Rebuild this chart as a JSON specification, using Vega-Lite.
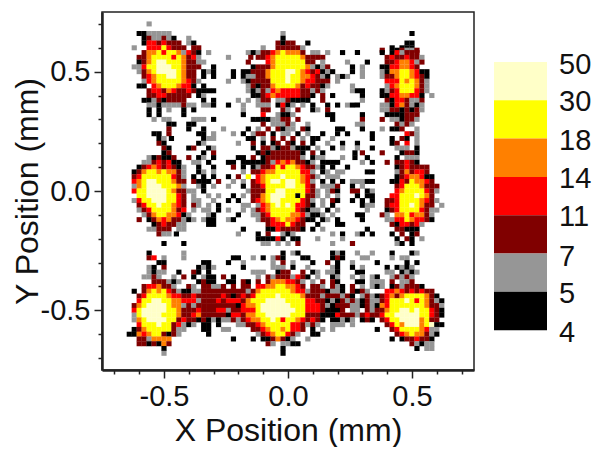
{"$schema":"https://vega.github.io/schema/vega-lite/v6.json","padding":{"left":10,"top":9,"right":0,"bottom":0},"background":"white","config":{"view":{"stroke":null},"font":"Liberation Sans"},"spacing":19,"hconcat":[{"width":372,"height":358,"view":{"stroke":"#222222","strokeWidth":1.5},"data":{"values":[
{"x":-0.56,"y":0.7,"v":6},{"x":-0.6,"y":0.66,"v":4},{"x":-0.58,"y":0.66,"v":4},{"x":-0.56,"y":0.66,"v":6},{"x":-0.54,"y":0.66,"v":6},{"x":-0.52,"y":0.66,"v":6},{"x":-0.5,"y":0.66,"v":6},{"x":-0.48,"y":0.66,"v":6},
{"x":-0.58,"y":0.64,"v":4},{"x":-0.56,"y":0.64,"v":9},{"x":-0.54,"y":0.64,"v":6},{"x":-0.52,"y":0.64,"v":6},{"x":-0.5,"y":0.64,"v":9},{"x":-0.48,"y":0.64,"v":6},{"x":-0.46,"y":0.64,"v":4},{"x":-0.4,"y":0.64,"v":6},
{"x":-0.58,"y":0.62,"v":4},{"x":-0.56,"y":0.62,"v":12},{"x":-0.54,"y":0.62,"v":12},{"x":-0.52,"y":0.62,"v":9},{"x":-0.5,"y":0.62,"v":12},{"x":-0.48,"y":0.62,"v":9},{"x":-0.46,"y":0.62,"v":9},{"x":-0.44,"y":0.62,"v":9},{"x":-0.4,"y":0.62,"v":6},{"x":-0.38,"y":0.62,"v":4},
{"x":-0.62,"y":0.6,"v":6},{"x":-0.56,"y":0.6,"v":12},{"x":-0.54,"y":0.6,"v":12},{"x":-0.52,"y":0.6,"v":12},{"x":-0.5,"y":0.6,"v":24},{"x":-0.48,"y":0.6,"v":12},{"x":-0.46,"y":0.6,"v":9},{"x":-0.44,"y":0.6,"v":9},{"x":-0.42,"y":0.6,"v":9},{"x":-0.38,"y":0.6,"v":9},{"x":-0.36,"y":0.6,"v":9},
{"x":-0.58,"y":0.58,"v":9},{"x":-0.56,"y":0.58,"v":16},{"x":-0.54,"y":0.58,"v":16},{"x":-0.52,"y":0.58,"v":24},{"x":-0.5,"y":0.58,"v":12},{"x":-0.48,"y":0.58,"v":24},{"x":-0.46,"y":0.58,"v":24},{"x":-0.44,"y":0.58,"v":16},{"x":-0.42,"y":0.58,"v":6},{"x":-0.4,"y":0.58,"v":12},{"x":-0.38,"y":0.58,"v":9},{"x":-0.36,"y":0.58,"v":4},{"x":-0.32,"y":0.58,"v":6},
{"x":-0.6,"y":0.56,"v":9},{"x":-0.58,"y":0.56,"v":9},{"x":-0.56,"y":0.56,"v":16},{"x":-0.54,"y":0.56,"v":24},{"x":-0.52,"y":0.56,"v":24},{"x":-0.5,"y":0.56,"v":24},{"x":-0.48,"y":0.56,"v":24},{"x":-0.46,"y":0.56,"v":12},{"x":-0.44,"y":0.56,"v":24},{"x":-0.42,"y":0.56,"v":16},{"x":-0.4,"y":0.56,"v":9},{"x":-0.38,"y":0.56,"v":12},{"x":-0.36,"y":0.56,"v":6},
{"x":-0.6,"y":0.54,"v":4},{"x":-0.58,"y":0.54,"v":9},{"x":-0.56,"y":0.54,"v":16},{"x":-0.54,"y":0.54,"v":24},{"x":-0.52,"y":0.54,"v":40},{"x":-0.5,"y":0.54,"v":40},{"x":-0.48,"y":0.54,"v":24},{"x":-0.46,"y":0.54,"v":24},{"x":-0.44,"y":0.54,"v":24},{"x":-0.42,"y":0.54,"v":16},{"x":-0.4,"y":0.54,"v":9},{"x":-0.38,"y":0.54,"v":9},{"x":-0.36,"y":0.54,"v":6},{"x":-0.34,"y":0.54,"v":6},
{"x":-0.62,"y":0.52,"v":6},{"x":-0.6,"y":0.52,"v":6},{"x":-0.58,"y":0.52,"v":12},{"x":-0.56,"y":0.52,"v":24},{"x":-0.54,"y":0.52,"v":24},{"x":-0.52,"y":0.52,"v":40},{"x":-0.5,"y":0.52,"v":40},{"x":-0.48,"y":0.52,"v":40},{"x":-0.46,"y":0.52,"v":24},{"x":-0.44,"y":0.52,"v":24},{"x":-0.42,"y":0.52,"v":16},{"x":-0.4,"y":0.52,"v":9},{"x":-0.38,"y":0.52,"v":9},{"x":-0.36,"y":0.52,"v":9},{"x":-0.3,"y":0.52,"v":4},
{"x":-0.6,"y":0.5,"v":6},{"x":-0.58,"y":0.5,"v":9},{"x":-0.56,"y":0.5,"v":16},{"x":-0.54,"y":0.5,"v":24},{"x":-0.52,"y":0.5,"v":40},{"x":-0.5,"y":0.5,"v":40},{"x":-0.48,"y":0.5,"v":40},{"x":-0.46,"y":0.5,"v":40},{"x":-0.44,"y":0.5,"v":24},{"x":-0.42,"y":0.5,"v":16},{"x":-0.4,"y":0.5,"v":9},{"x":-0.38,"y":0.5,"v":9},{"x":-0.34,"y":0.5,"v":4},{"x":-0.32,"y":0.5,"v":6},{"x":-0.3,"y":0.5,"v":4},
{"x":-0.58,"y":0.48,"v":9},{"x":-0.56,"y":0.48,"v":12},{"x":-0.54,"y":0.48,"v":16},{"x":-0.52,"y":0.48,"v":24},{"x":-0.5,"y":0.48,"v":24},{"x":-0.48,"y":0.48,"v":40},{"x":-0.46,"y":0.48,"v":40},{"x":-0.44,"y":0.48,"v":24},{"x":-0.42,"y":0.48,"v":16},{"x":-0.4,"y":0.48,"v":9},{"x":-0.38,"y":0.48,"v":9},{"x":-0.34,"y":0.48,"v":4},{"x":-0.3,"y":0.48,"v":4},
{"x":-0.58,"y":0.46,"v":6},{"x":-0.56,"y":0.46,"v":12},{"x":-0.54,"y":0.46,"v":16},{"x":-0.52,"y":0.46,"v":24},{"x":-0.5,"y":0.46,"v":24},{"x":-0.48,"y":0.46,"v":24},{"x":-0.46,"y":0.46,"v":24},{"x":-0.44,"y":0.46,"v":24},{"x":-0.42,"y":0.46,"v":16},{"x":-0.4,"y":0.46,"v":12},{"x":-0.38,"y":0.46,"v":9},{"x":-0.36,"y":0.46,"v":6},
{"x":-0.6,"y":0.44,"v":4},{"x":-0.58,"y":0.44,"v":4},{"x":-0.54,"y":0.44,"v":12},{"x":-0.52,"y":0.44,"v":16},{"x":-0.5,"y":0.44,"v":24},{"x":-0.48,"y":0.44,"v":24},{"x":-0.46,"y":0.44,"v":24},{"x":-0.44,"y":0.44,"v":16},{"x":-0.42,"y":0.44,"v":12},{"x":-0.4,"y":0.44,"v":12},{"x":-0.38,"y":0.44,"v":4},{"x":-0.34,"y":0.44,"v":4},
{"x":-0.56,"y":0.42,"v":9},{"x":-0.54,"y":0.42,"v":12},{"x":-0.52,"y":0.42,"v":12},{"x":-0.5,"y":0.42,"v":9},{"x":-0.48,"y":0.42,"v":16},{"x":-0.46,"y":0.42,"v":12},{"x":-0.44,"y":0.42,"v":9},{"x":-0.42,"y":0.42,"v":9},{"x":-0.4,"y":0.42,"v":12},{"x":-0.38,"y":0.42,"v":9},{"x":-0.36,"y":0.42,"v":4},{"x":-0.34,"y":0.42,"v":4},{"x":-0.32,"y":0.42,"v":4},{"x":-0.3,"y":0.42,"v":4},
{"x":-0.56,"y":0.4,"v":9},{"x":-0.54,"y":0.4,"v":9},{"x":-0.52,"y":0.4,"v":12},{"x":-0.5,"y":0.4,"v":12},{"x":-0.48,"y":0.4,"v":9},{"x":-0.46,"y":0.4,"v":9},{"x":-0.44,"y":0.4,"v":9},{"x":-0.42,"y":0.4,"v":9},{"x":-0.4,"y":0.4,"v":9},{"x":-0.36,"y":0.4,"v":4},{"x":-0.34,"y":0.4,"v":6},
{"x":-0.58,"y":0.38,"v":4},{"x":-0.56,"y":0.38,"v":4},{"x":-0.54,"y":0.38,"v":6},{"x":-0.52,"y":0.38,"v":9},{"x":-0.5,"y":0.38,"v":4},{"x":-0.48,"y":0.38,"v":9},{"x":-0.46,"y":0.38,"v":9},{"x":-0.44,"y":0.38,"v":9},{"x":-0.42,"y":0.38,"v":9},{"x":-0.34,"y":0.38,"v":4},{"x":-0.3,"y":0.38,"v":4},
{"x":-0.56,"y":0.36,"v":6},{"x":-0.54,"y":0.36,"v":6},{"x":-0.52,"y":0.36,"v":4},{"x":-0.5,"y":0.36,"v":6},{"x":-0.48,"y":0.36,"v":6},{"x":-0.46,"y":0.36,"v":6},{"x":-0.44,"y":0.36,"v":6},{"x":-0.42,"y":0.36,"v":9},{"x":-0.4,"y":0.36,"v":6},{"x":-0.38,"y":0.36,"v":6},{"x":-0.34,"y":0.36,"v":6},{"x":-0.32,"y":0.36,"v":6},{"x":-0.3,"y":0.36,"v":4},
{"x":-0.56,"y":0.34,"v":4},{"x":-0.52,"y":0.34,"v":4},{"x":-0.48,"y":0.34,"v":6},{"x":-0.42,"y":0.34,"v":4},{"x":-0.38,"y":0.34,"v":4},
{"x":-0.56,"y":0.32,"v":4},{"x":-0.52,"y":0.32,"v":4},{"x":-0.42,"y":0.32,"v":4},
{"x":-0.54,"y":0.3,"v":6},{"x":-0.5,"y":0.3,"v":6},{"x":-0.48,"y":0.3,"v":6},{"x":-0.38,"y":0.3,"v":6},{"x":-0.36,"y":0.3,"v":6},{"x":-0.34,"y":0.3,"v":6},{"x":-0.3,"y":0.3,"v":4},
{"x":-0.48,"y":0.28,"v":4},{"x":-0.46,"y":0.28,"v":4},{"x":-0.4,"y":0.28,"v":4},{"x":-0.38,"y":0.28,"v":4},
{"x":-0.48,"y":0.26,"v":9},{"x":-0.4,"y":0.26,"v":4},{"x":-0.34,"y":0.26,"v":4},{"x":-0.26,"y":0.26,"v":6},
{"x":-0.54,"y":0.24,"v":4},{"x":-0.52,"y":0.24,"v":4},{"x":-0.48,"y":0.24,"v":9},{"x":-0.36,"y":0.24,"v":4},{"x":-0.34,"y":0.24,"v":4},{"x":-0.3,"y":0.24,"v":6},
{"x":-0.52,"y":0.22,"v":4},{"x":-0.5,"y":0.22,"v":6},{"x":-0.47,"y":0.22,"v":4},{"x":-0.34,"y":0.22,"v":4},{"x":-0.32,"y":0.22,"v":6},{"x":-0.3,"y":0.22,"v":6},
{"x":-0.52,"y":0.2,"v":9},{"x":-0.5,"y":0.2,"v":4},{"x":-0.36,"y":0.2,"v":4},{"x":-0.34,"y":0.2,"v":6},
{"x":-0.5,"y":0.18,"v":9},{"x":-0.48,"y":0.18,"v":4},{"x":-0.4,"y":0.18,"v":4},{"x":-0.38,"y":0.18,"v":9},{"x":-0.32,"y":0.18,"v":4},{"x":-0.3,"y":0.18,"v":6},
{"x":-0.5,"y":0.16,"v":4},{"x":-0.48,"y":0.16,"v":9},{"x":-0.34,"y":0.16,"v":4},{"x":-0.3,"y":0.16,"v":9},
{"x":-0.56,"y":0.14,"v":6},{"x":-0.54,"y":0.14,"v":4},{"x":-0.52,"y":0.14,"v":9},{"x":-0.5,"y":0.14,"v":4},{"x":-0.48,"y":0.14,"v":4},{"x":-0.46,"y":0.14,"v":9},{"x":-0.4,"y":0.14,"v":9},{"x":-0.36,"y":0.14,"v":4},{"x":-0.34,"y":0.14,"v":6},{"x":-0.3,"y":0.14,"v":4},
{"x":-0.58,"y":0.12,"v":6},{"x":-0.56,"y":0.12,"v":6},{"x":-0.54,"y":0.12,"v":9},{"x":-0.52,"y":0.12,"v":12},{"x":-0.5,"y":0.12,"v":9},{"x":-0.48,"y":0.12,"v":12},{"x":-0.46,"y":0.12,"v":4},{"x":-0.44,"y":0.12,"v":4},{"x":-0.38,"y":0.12,"v":6},{"x":-0.36,"y":0.12,"v":6},{"x":-0.32,"y":0.12,"v":4},
{"x":-0.6,"y":0.1,"v":4},{"x":-0.58,"y":0.1,"v":9},{"x":-0.56,"y":0.1,"v":12},{"x":-0.54,"y":0.1,"v":16},{"x":-0.52,"y":0.1,"v":12},{"x":-0.5,"y":0.1,"v":9},{"x":-0.48,"y":0.1,"v":12},{"x":-0.46,"y":0.1,"v":9},{"x":-0.44,"y":0.1,"v":4},{"x":-0.42,"y":0.1,"v":6},{"x":-0.36,"y":0.1,"v":4},{"x":-0.3,"y":0.1,"v":4},
{"x":-0.62,"y":0.08,"v":4},{"x":-0.6,"y":0.08,"v":9},{"x":-0.58,"y":0.08,"v":16},{"x":-0.56,"y":0.08,"v":24},{"x":-0.54,"y":0.08,"v":24},{"x":-0.52,"y":0.08,"v":16},{"x":-0.5,"y":0.08,"v":24},{"x":-0.48,"y":0.08,"v":16},{"x":-0.46,"y":0.08,"v":16},{"x":-0.44,"y":0.08,"v":9},{"x":-0.42,"y":0.08,"v":6},{"x":-0.36,"y":0.08,"v":4},{"x":-0.34,"y":0.08,"v":6},{"x":-0.3,"y":0.08,"v":6},
{"x":-0.62,"y":0.06,"v":9},{"x":-0.6,"y":0.06,"v":12},{"x":-0.58,"y":0.06,"v":24},{"x":-0.56,"y":0.06,"v":24},{"x":-0.54,"y":0.06,"v":24},{"x":-0.52,"y":0.06,"v":24},{"x":-0.5,"y":0.06,"v":24},{"x":-0.48,"y":0.06,"v":24},{"x":-0.46,"y":0.06,"v":12},{"x":-0.44,"y":0.06,"v":9},{"x":-0.42,"y":0.06,"v":6},{"x":-0.38,"y":0.06,"v":4},{"x":-0.34,"y":0.06,"v":4},{"x":-0.3,"y":0.06,"v":4},
{"x":-0.62,"y":0.04,"v":12},{"x":-0.6,"y":0.04,"v":16},{"x":-0.58,"y":0.04,"v":24},{"x":-0.56,"y":0.04,"v":40},{"x":-0.54,"y":0.04,"v":40},{"x":-0.52,"y":0.04,"v":24},{"x":-0.5,"y":0.04,"v":24},{"x":-0.48,"y":0.04,"v":24},{"x":-0.46,"y":0.04,"v":16},{"x":-0.44,"y":0.04,"v":9},{"x":-0.42,"y":0.04,"v":9},{"x":-0.38,"y":0.04,"v":9},{"x":-0.36,"y":0.04,"v":4},{"x":-0.34,"y":0.04,"v":4},{"x":-0.32,"y":0.04,"v":4},{"x":-0.28,"y":0.04,"v":9},
{"x":-0.62,"y":0.02,"v":6},{"x":-0.6,"y":0.02,"v":16},{"x":-0.58,"y":0.02,"v":24},{"x":-0.56,"y":0.02,"v":40},{"x":-0.54,"y":0.02,"v":40},{"x":-0.52,"y":0.02,"v":40},{"x":-0.5,"y":0.02,"v":24},{"x":-0.48,"y":0.02,"v":24},{"x":-0.46,"y":0.02,"v":24},{"x":-0.44,"y":0.02,"v":16},{"x":-0.42,"y":0.02,"v":6},{"x":-0.36,"y":0.02,"v":6},{"x":-0.34,"y":0.02,"v":4},{"x":-0.3,"y":0.02,"v":6},
{"x":-0.62,"y":0,"v":12},{"x":-0.6,"y":0,"v":24},{"x":-0.58,"y":0,"v":24},{"x":-0.56,"y":0,"v":40},{"x":-0.54,"y":0,"v":40},{"x":-0.52,"y":0,"v":40},{"x":-0.5,"y":0,"v":40},{"x":-0.48,"y":0,"v":24},{"x":-0.46,"y":0,"v":16},{"x":-0.44,"y":0,"v":9},{"x":-0.42,"y":0,"v":9},{"x":-0.4,"y":0,"v":6},{"x":-0.38,"y":0,"v":6},{"x":-0.34,"y":0,"v":4},
{"x":-0.6,"y":-0.02,"v":24},{"x":-0.58,"y":-0.02,"v":24},{"x":-0.56,"y":-0.02,"v":40},{"x":-0.54,"y":-0.02,"v":40},{"x":-0.52,"y":-0.02,"v":40},{"x":-0.5,"y":-0.02,"v":40},{"x":-0.48,"y":-0.02,"v":24},{"x":-0.46,"y":-0.02,"v":24},{"x":-0.44,"y":-0.02,"v":12},{"x":-0.42,"y":-0.02,"v":9},{"x":-0.38,"y":-0.02,"v":6},{"x":-0.32,"y":-0.02,"v":6},{"x":-0.28,"y":-0.02,"v":6},
{"x":-0.62,"y":-0.04,"v":6},{"x":-0.6,"y":-0.04,"v":12},{"x":-0.58,"y":-0.04,"v":24},{"x":-0.56,"y":-0.04,"v":24},{"x":-0.54,"y":-0.04,"v":40},{"x":-0.52,"y":-0.04,"v":40},{"x":-0.5,"y":-0.04,"v":40},{"x":-0.48,"y":-0.04,"v":24},{"x":-0.46,"y":-0.04,"v":24},{"x":-0.44,"y":-0.04,"v":12},{"x":-0.42,"y":-0.04,"v":9},{"x":-0.38,"y":-0.04,"v":6},{"x":-0.36,"y":-0.04,"v":6},{"x":-0.3,"y":-0.04,"v":6},
{"x":-0.6,"y":-0.06,"v":9},{"x":-0.58,"y":-0.06,"v":12},{"x":-0.56,"y":-0.06,"v":24},{"x":-0.54,"y":-0.06,"v":24},{"x":-0.52,"y":-0.06,"v":40},{"x":-0.5,"y":-0.06,"v":24},{"x":-0.48,"y":-0.06,"v":24},{"x":-0.46,"y":-0.06,"v":16},{"x":-0.44,"y":-0.06,"v":12},{"x":-0.42,"y":-0.06,"v":9},{"x":-0.38,"y":-0.06,"v":9},{"x":-0.36,"y":-0.06,"v":6},{"x":-0.32,"y":-0.06,"v":6},{"x":-0.28,"y":-0.06,"v":4},
{"x":-0.6,"y":-0.08,"v":6},{"x":-0.58,"y":-0.08,"v":9},{"x":-0.56,"y":-0.08,"v":12},{"x":-0.54,"y":-0.08,"v":24},{"x":-0.52,"y":-0.08,"v":24},{"x":-0.5,"y":-0.08,"v":24},{"x":-0.48,"y":-0.08,"v":24},{"x":-0.46,"y":-0.08,"v":16},{"x":-0.44,"y":-0.08,"v":9},{"x":-0.42,"y":-0.08,"v":12},{"x":-0.38,"y":-0.08,"v":6},{"x":-0.34,"y":-0.08,"v":6},{"x":-0.32,"y":-0.08,"v":6},{"x":-0.28,"y":-0.08,"v":4},
{"x":-0.58,"y":-0.1,"v":6},{"x":-0.56,"y":-0.1,"v":9},{"x":-0.54,"y":-0.1,"v":16},{"x":-0.52,"y":-0.1,"v":24},{"x":-0.5,"y":-0.1,"v":24},{"x":-0.48,"y":-0.1,"v":16},{"x":-0.46,"y":-0.1,"v":16},{"x":-0.44,"y":-0.1,"v":12},{"x":-0.42,"y":-0.1,"v":4},{"x":-0.4,"y":-0.1,"v":6},{"x":-0.32,"y":-0.1,"v":6},{"x":-0.3,"y":-0.1,"v":4},
{"x":-0.6,"y":-0.12,"v":9},{"x":-0.56,"y":-0.12,"v":4},{"x":-0.54,"y":-0.12,"v":9},{"x":-0.52,"y":-0.12,"v":16},{"x":-0.5,"y":-0.12,"v":12},{"x":-0.48,"y":-0.12,"v":16},{"x":-0.46,"y":-0.12,"v":9},{"x":-0.44,"y":-0.12,"v":9},{"x":-0.42,"y":-0.12,"v":6},{"x":-0.4,"y":-0.12,"v":4},{"x":-0.38,"y":-0.12,"v":6},{"x":-0.34,"y":-0.12,"v":6},{"x":-0.32,"y":-0.12,"v":4},{"x":-0.3,"y":-0.12,"v":4},
{"x":-0.54,"y":-0.14,"v":4},{"x":-0.52,"y":-0.14,"v":9},{"x":-0.5,"y":-0.14,"v":12},{"x":-0.48,"y":-0.14,"v":9},{"x":-0.46,"y":-0.14,"v":9},{"x":-0.44,"y":-0.14,"v":6},{"x":-0.42,"y":-0.14,"v":6},{"x":-0.32,"y":-0.14,"v":4},{"x":-0.3,"y":-0.14,"v":4},
{"x":-0.56,"y":-0.16,"v":6},{"x":-0.54,"y":-0.16,"v":6},{"x":-0.52,"y":-0.16,"v":9},{"x":-0.5,"y":-0.16,"v":9},{"x":-0.48,"y":-0.16,"v":9},{"x":-0.44,"y":-0.16,"v":6},{"x":-0.42,"y":-0.16,"v":6},
{"x":-0.52,"y":-0.18,"v":9},{"x":-0.5,"y":-0.18,"v":6},{"x":-0.48,"y":-0.18,"v":6},{"x":-0.45,"y":-0.18,"v":4},
{"x":-0.5,"y":-0.22,"v":4},{"x":-0.42,"y":-0.22,"v":4},
{"x":-0.56,"y":-0.26,"v":4},{"x":-0.42,"y":-0.26,"v":6},
{"x":-0.56,"y":-0.28,"v":9},{"x":-0.54,"y":-0.28,"v":12},{"x":-0.5,"y":-0.28,"v":6},{"x":-0.42,"y":-0.28,"v":6},
{"x":-0.52,"y":-0.3,"v":4},{"x":-0.5,"y":-0.3,"v":4},{"x":-0.34,"y":-0.3,"v":4},{"x":-0.32,"y":-0.3,"v":4},
{"x":-0.56,"y":-0.32,"v":6},{"x":-0.54,"y":-0.32,"v":4},{"x":-0.5,"y":-0.32,"v":9},{"x":-0.36,"y":-0.32,"v":4},{"x":-0.34,"y":-0.32,"v":6},{"x":-0.32,"y":-0.32,"v":4},{"x":-0.3,"y":-0.32,"v":6},
{"x":-0.56,"y":-0.34,"v":6},{"x":-0.54,"y":-0.34,"v":4},{"x":-0.52,"y":-0.34,"v":6},{"x":-0.5,"y":-0.34,"v":6},{"x":-0.44,"y":-0.34,"v":4},{"x":-0.38,"y":-0.34,"v":9},{"x":-0.36,"y":-0.34,"v":4},{"x":-0.32,"y":-0.34,"v":4},
{"x":-0.58,"y":-0.36,"v":6},{"x":-0.56,"y":-0.36,"v":6},{"x":-0.54,"y":-0.36,"v":9},{"x":-0.52,"y":-0.36,"v":6},{"x":-0.46,"y":-0.36,"v":6},{"x":-0.42,"y":-0.36,"v":9},{"x":-0.38,"y":-0.36,"v":4},{"x":-0.34,"y":-0.36,"v":6},{"x":-0.32,"y":-0.36,"v":4},{"x":-0.3,"y":-0.36,"v":4},{"x":-0.26,"y":-0.36,"v":9},
{"x":-0.54,"y":-0.38,"v":9},{"x":-0.52,"y":-0.38,"v":9},{"x":-0.5,"y":-0.38,"v":9},{"x":-0.48,"y":-0.38,"v":6},{"x":-0.46,"y":-0.38,"v":4},{"x":-0.44,"y":-0.38,"v":6},{"x":-0.36,"y":-0.38,"v":4},{"x":-0.34,"y":-0.38,"v":9},{"x":-0.32,"y":-0.38,"v":4},{"x":-0.3,"y":-0.38,"v":4},
{"x":-0.58,"y":-0.4,"v":9},{"x":-0.56,"y":-0.4,"v":12},{"x":-0.54,"y":-0.4,"v":12},{"x":-0.52,"y":-0.4,"v":16},{"x":-0.5,"y":-0.4,"v":9},{"x":-0.48,"y":-0.4,"v":9},{"x":-0.46,"y":-0.4,"v":6},{"x":-0.4,"y":-0.4,"v":9},{"x":-0.38,"y":-0.4,"v":6},{"x":-0.34,"y":-0.4,"v":9},{"x":-0.32,"y":-0.4,"v":9},{"x":-0.3,"y":-0.4,"v":6},{"x":-0.28,"y":-0.4,"v":6},{"x":-0.26,"y":-0.4,"v":9},
{"x":-0.62,"y":-0.42,"v":4},{"x":-0.58,"y":-0.42,"v":9},{"x":-0.56,"y":-0.42,"v":16},{"x":-0.54,"y":-0.42,"v":24},{"x":-0.52,"y":-0.42,"v":16},{"x":-0.5,"y":-0.42,"v":24},{"x":-0.48,"y":-0.42,"v":12},{"x":-0.46,"y":-0.42,"v":9},{"x":-0.44,"y":-0.42,"v":6},{"x":-0.42,"y":-0.42,"v":4},{"x":-0.4,"y":-0.42,"v":4},{"x":-0.38,"y":-0.42,"v":6},{"x":-0.36,"y":-0.42,"v":6},{"x":-0.34,"y":-0.42,"v":9},{"x":-0.32,"y":-0.42,"v":9},{"x":-0.3,"y":-0.42,"v":9},{"x":-0.28,"y":-0.42,"v":9},{"x":-0.26,"y":-0.42,"v":9},
{"x":-0.6,"y":-0.44,"v":9},{"x":-0.58,"y":-0.44,"v":12},{"x":-0.56,"y":-0.44,"v":24},{"x":-0.54,"y":-0.44,"v":24},{"x":-0.52,"y":-0.44,"v":24},{"x":-0.5,"y":-0.44,"v":24},{"x":-0.48,"y":-0.44,"v":16},{"x":-0.46,"y":-0.44,"v":12},{"x":-0.44,"y":-0.44,"v":12},{"x":-0.42,"y":-0.44,"v":9},{"x":-0.4,"y":-0.44,"v":9},{"x":-0.38,"y":-0.44,"v":12},{"x":-0.36,"y":-0.44,"v":9},{"x":-0.34,"y":-0.44,"v":9},{"x":-0.32,"y":-0.44,"v":9},{"x":-0.3,"y":-0.44,"v":9},{"x":-0.28,"y":-0.44,"v":9},{"x":-0.26,"y":-0.44,"v":12},
{"x":-0.6,"y":-0.46,"v":12},{"x":-0.58,"y":-0.46,"v":24},{"x":-0.56,"y":-0.46,"v":24},{"x":-0.54,"y":-0.46,"v":40},{"x":-0.52,"y":-0.46,"v":40},{"x":-0.5,"y":-0.46,"v":24},{"x":-0.48,"y":-0.46,"v":24},{"x":-0.46,"y":-0.46,"v":16},{"x":-0.44,"y":-0.46,"v":16},{"x":-0.42,"y":-0.46,"v":12},{"x":-0.4,"y":-0.46,"v":12},{"x":-0.38,"y":-0.46,"v":12},{"x":-0.36,"y":-0.46,"v":6},{"x":-0.34,"y":-0.46,"v":9},{"x":-0.32,"y":-0.46,"v":9},{"x":-0.3,"y":-0.46,"v":9},{"x":-0.28,"y":-0.46,"v":12},{"x":-0.26,"y":-0.46,"v":9},
{"x":-0.62,"y":-0.48,"v":9},{"x":-0.6,"y":-0.48,"v":16},{"x":-0.58,"y":-0.48,"v":24},{"x":-0.56,"y":-0.48,"v":40},{"x":-0.54,"y":-0.48,"v":40},{"x":-0.52,"y":-0.48,"v":40},{"x":-0.5,"y":-0.48,"v":40},{"x":-0.48,"y":-0.48,"v":24},{"x":-0.46,"y":-0.48,"v":16},{"x":-0.44,"y":-0.48,"v":16},{"x":-0.42,"y":-0.48,"v":6},{"x":-0.4,"y":-0.48,"v":9},{"x":-0.38,"y":-0.48,"v":6},{"x":-0.36,"y":-0.48,"v":9},{"x":-0.34,"y":-0.48,"v":9},{"x":-0.32,"y":-0.48,"v":9},{"x":-0.3,"y":-0.48,"v":9},{"x":-0.28,"y":-0.48,"v":9},{"x":-0.26,"y":-0.48,"v":9},
{"x":-0.62,"y":-0.5,"v":12},{"x":-0.6,"y":-0.5,"v":24},{"x":-0.58,"y":-0.5,"v":40},{"x":-0.56,"y":-0.5,"v":40},{"x":-0.54,"y":-0.5,"v":40},{"x":-0.52,"y":-0.5,"v":40},{"x":-0.5,"y":-0.5,"v":40},{"x":-0.48,"y":-0.5,"v":24},{"x":-0.46,"y":-0.5,"v":24},{"x":-0.44,"y":-0.5,"v":16},{"x":-0.42,"y":-0.5,"v":9},{"x":-0.4,"y":-0.5,"v":9},{"x":-0.38,"y":-0.5,"v":9},{"x":-0.36,"y":-0.5,"v":12},{"x":-0.34,"y":-0.5,"v":9},{"x":-0.32,"y":-0.5,"v":9},{"x":-0.3,"y":-0.5,"v":9},{"x":-0.28,"y":-0.5,"v":12},{"x":-0.26,"y":-0.5,"v":12},
{"x":-0.62,"y":-0.52,"v":6},{"x":-0.6,"y":-0.52,"v":24},{"x":-0.58,"y":-0.52,"v":40},{"x":-0.56,"y":-0.52,"v":40},{"x":-0.54,"y":-0.52,"v":40},{"x":-0.52,"y":-0.52,"v":40},{"x":-0.5,"y":-0.52,"v":24},{"x":-0.48,"y":-0.52,"v":24},{"x":-0.46,"y":-0.52,"v":24},{"x":-0.44,"y":-0.52,"v":16},{"x":-0.42,"y":-0.52,"v":9},{"x":-0.4,"y":-0.52,"v":9},{"x":-0.38,"y":-0.52,"v":12},{"x":-0.36,"y":-0.52,"v":16},{"x":-0.34,"y":-0.52,"v":9},{"x":-0.32,"y":-0.52,"v":9},{"x":-0.3,"y":-0.52,"v":9},{"x":-0.28,"y":-0.52,"v":9},{"x":-0.26,"y":-0.52,"v":9},
{"x":-0.62,"y":-0.54,"v":6},{"x":-0.6,"y":-0.54,"v":16},{"x":-0.58,"y":-0.54,"v":24},{"x":-0.56,"y":-0.54,"v":40},{"x":-0.54,"y":-0.54,"v":40},{"x":-0.52,"y":-0.54,"v":40},{"x":-0.5,"y":-0.54,"v":40},{"x":-0.48,"y":-0.54,"v":24},{"x":-0.46,"y":-0.54,"v":24},{"x":-0.44,"y":-0.54,"v":9},{"x":-0.42,"y":-0.54,"v":12},{"x":-0.4,"y":-0.54,"v":9},{"x":-0.38,"y":-0.54,"v":9},{"x":-0.36,"y":-0.54,"v":4},{"x":-0.34,"y":-0.54,"v":9},{"x":-0.32,"y":-0.54,"v":4},{"x":-0.3,"y":-0.54,"v":6},{"x":-0.28,"y":-0.54,"v":4},{"x":-0.26,"y":-0.54,"v":6},
{"x":-0.6,"y":-0.56,"v":12},{"x":-0.58,"y":-0.56,"v":24},{"x":-0.56,"y":-0.56,"v":24},{"x":-0.54,"y":-0.56,"v":24},{"x":-0.52,"y":-0.56,"v":40},{"x":-0.5,"y":-0.56,"v":24},{"x":-0.48,"y":-0.56,"v":24},{"x":-0.46,"y":-0.56,"v":9},{"x":-0.44,"y":-0.56,"v":12},{"x":-0.42,"y":-0.56,"v":6},{"x":-0.4,"y":-0.56,"v":4},{"x":-0.38,"y":-0.56,"v":6},{"x":-0.34,"y":-0.56,"v":4},{"x":-0.32,"y":-0.56,"v":4},{"x":-0.28,"y":-0.56,"v":4},
{"x":-0.62,"y":-0.58,"v":4},{"x":-0.6,"y":-0.58,"v":9},{"x":-0.58,"y":-0.58,"v":16},{"x":-0.56,"y":-0.58,"v":24},{"x":-0.54,"y":-0.58,"v":24},{"x":-0.52,"y":-0.58,"v":24},{"x":-0.5,"y":-0.58,"v":24},{"x":-0.48,"y":-0.58,"v":24},{"x":-0.46,"y":-0.58,"v":9},{"x":-0.44,"y":-0.58,"v":6},{"x":-0.42,"y":-0.58,"v":6},{"x":-0.34,"y":-0.58,"v":4},{"x":-0.32,"y":-0.58,"v":4},{"x":-0.26,"y":-0.58,"v":6},
{"x":-0.64,"y":-0.6,"v":4},{"x":-0.62,"y":-0.6,"v":4},{"x":-0.6,"y":-0.6,"v":16},{"x":-0.58,"y":-0.6,"v":12},{"x":-0.56,"y":-0.6,"v":16},{"x":-0.54,"y":-0.6,"v":24},{"x":-0.52,"y":-0.6,"v":24},{"x":-0.5,"y":-0.6,"v":9},{"x":-0.48,"y":-0.6,"v":4},{"x":-0.46,"y":-0.6,"v":9},{"x":-0.44,"y":-0.6,"v":6},{"x":-0.32,"y":-0.6,"v":4},
{"x":-0.6,"y":-0.62,"v":9},{"x":-0.58,"y":-0.62,"v":9},{"x":-0.56,"y":-0.62,"v":6},{"x":-0.54,"y":-0.62,"v":16},{"x":-0.52,"y":-0.62,"v":16},{"x":-0.5,"y":-0.62,"v":16},{"x":-0.48,"y":-0.62,"v":16},
{"x":-0.6,"y":-0.64,"v":9},{"x":-0.58,"y":-0.64,"v":9},{"x":-0.56,"y":-0.64,"v":4},{"x":-0.54,"y":-0.64,"v":9},{"x":-0.52,"y":-0.64,"v":4},{"x":-0.5,"y":-0.64,"v":16},{"x":-0.48,"y":-0.64,"v":9},
{"x":-0.5,"y":-0.66,"v":4},{"x":-0.5,"y":-0.68,"v":6},
{"x":-0.02,"y":0.66,"v":6},{"x":-0.02,"y":0.64,"v":4},{"x":-0.04,"y":0.62,"v":9},{"x":-0.02,"y":0.62,"v":4},{"x":0,"y":0.62,"v":9},{"x":0.02,"y":0.62,"v":9},{"x":0.08,"y":0.62,"v":4},
{"x":-0.1,"y":0.6,"v":6},{"x":-0.04,"y":0.6,"v":9},{"x":-0.02,"y":0.6,"v":9},{"x":0,"y":0.6,"v":9},{"x":0.02,"y":0.6,"v":9},{"x":0.04,"y":0.6,"v":9},{"x":0.06,"y":0.6,"v":6},
{"x":-0.16,"y":0.58,"v":6},{"x":-0.14,"y":0.58,"v":4},{"x":-0.12,"y":0.58,"v":6},{"x":-0.1,"y":0.58,"v":9},{"x":-0.08,"y":0.58,"v":9},{"x":-0.06,"y":0.58,"v":12},{"x":-0.04,"y":0.58,"v":16},{"x":-0.02,"y":0.58,"v":24},{"x":0,"y":0.58,"v":16},{"x":0.02,"y":0.58,"v":16},{"x":0.04,"y":0.58,"v":16},{"x":0.06,"y":0.58,"v":9},{"x":0.1,"y":0.58,"v":6},{"x":0.12,"y":0.58,"v":6},{"x":0.16,"y":0.58,"v":6},{"x":0.22,"y":0.58,"v":4},
{"x":-0.24,"y":0.56,"v":6},{"x":-0.15,"y":0.56,"v":9},{"x":-0.12,"y":0.56,"v":9},{"x":-0.1,"y":0.56,"v":9},{"x":-0.08,"y":0.56,"v":12},{"x":-0.06,"y":0.56,"v":16},{"x":-0.04,"y":0.56,"v":24},{"x":-0.02,"y":0.56,"v":24},{"x":0,"y":0.56,"v":24},{"x":0.02,"y":0.56,"v":24},{"x":0.04,"y":0.56,"v":24},{"x":0.06,"y":0.56,"v":16},{"x":0.08,"y":0.56,"v":9},{"x":0.1,"y":0.56,"v":9},{"x":0.12,"y":0.56,"v":9},{"x":0.14,"y":0.56,"v":9},
{"x":-0.16,"y":0.54,"v":9},{"x":-0.08,"y":0.54,"v":12},{"x":-0.06,"y":0.54,"v":16},{"x":-0.04,"y":0.54,"v":24},{"x":-0.02,"y":0.54,"v":24},{"x":0,"y":0.54,"v":24},{"x":0.02,"y":0.54,"v":24},{"x":0.04,"y":0.54,"v":24},{"x":0.06,"y":0.54,"v":24},{"x":0.08,"y":0.54,"v":9},{"x":0.1,"y":0.54,"v":9},{"x":0.14,"y":0.54,"v":6},{"x":0.24,"y":0.54,"v":6},
{"x":-0.14,"y":0.52,"v":4},{"x":-0.12,"y":0.52,"v":9},{"x":-0.1,"y":0.52,"v":9},{"x":-0.08,"y":0.52,"v":9},{"x":-0.06,"y":0.52,"v":16},{"x":-0.04,"y":0.52,"v":24},{"x":-0.02,"y":0.52,"v":24},{"x":0,"y":0.52,"v":24},{"x":0.02,"y":0.52,"v":24},{"x":0.04,"y":0.52,"v":24},{"x":0.06,"y":0.52,"v":24},{"x":0.08,"y":0.52,"v":16},{"x":0.1,"y":0.52,"v":6},{"x":0.12,"y":0.52,"v":4},{"x":0.14,"y":0.52,"v":6},{"x":0.16,"y":0.52,"v":9},{"x":0.26,"y":0.52,"v":4},
{"x":-0.22,"y":0.5,"v":4},{"x":-0.18,"y":0.5,"v":4},{"x":-0.16,"y":0.5,"v":4},{"x":-0.14,"y":0.5,"v":9},{"x":-0.12,"y":0.5,"v":9},{"x":-0.1,"y":0.5,"v":9},{"x":-0.08,"y":0.5,"v":16},{"x":-0.06,"y":0.5,"v":24},{"x":-0.04,"y":0.5,"v":24},{"x":-0.02,"y":0.5,"v":24},{"x":0,"y":0.5,"v":40},{"x":0.02,"y":0.5,"v":40},{"x":0.04,"y":0.5,"v":24},{"x":0.06,"y":0.5,"v":16},{"x":0.08,"y":0.5,"v":12},{"x":0.1,"y":0.5,"v":9},{"x":0.12,"y":0.5,"v":12},{"x":0.14,"y":0.5,"v":4},{"x":0.16,"y":0.5,"v":6},{"x":0.18,"y":0.5,"v":4},
{"x":-0.22,"y":0.48,"v":4},{"x":-0.18,"y":0.48,"v":4},{"x":-0.16,"y":0.48,"v":6},{"x":-0.14,"y":0.48,"v":6},{"x":-0.12,"y":0.48,"v":9},{"x":-0.1,"y":0.48,"v":9},{"x":-0.08,"y":0.48,"v":16},{"x":-0.06,"y":0.48,"v":24},{"x":-0.04,"y":0.48,"v":24},{"x":-0.02,"y":0.48,"v":24},{"x":0,"y":0.48,"v":40},{"x":0.02,"y":0.48,"v":24},{"x":0.04,"y":0.48,"v":24},{"x":0.06,"y":0.48,"v":16},{"x":0.08,"y":0.48,"v":16},{"x":0.1,"y":0.48,"v":12},{"x":0.12,"y":0.48,"v":9},{"x":0.14,"y":0.48,"v":6},{"x":0.16,"y":0.48,"v":4},{"x":0.2,"y":0.48,"v":6},{"x":0.22,"y":0.48,"v":4},{"x":0.24,"y":0.48,"v":6},
{"x":-0.24,"y":0.46,"v":6},{"x":-0.18,"y":0.46,"v":6},{"x":-0.16,"y":0.46,"v":4},{"x":-0.14,"y":0.46,"v":9},{"x":-0.12,"y":0.46,"v":9},{"x":-0.1,"y":0.46,"v":9},{"x":-0.08,"y":0.46,"v":9},{"x":-0.06,"y":0.46,"v":24},{"x":-0.04,"y":0.46,"v":24},{"x":-0.02,"y":0.46,"v":24},{"x":0,"y":0.46,"v":40},{"x":0.02,"y":0.46,"v":24},{"x":0.04,"y":0.46,"v":24},{"x":0.06,"y":0.46,"v":16},{"x":0.08,"y":0.46,"v":12},{"x":0.1,"y":0.46,"v":12},{"x":0.12,"y":0.46,"v":9},{"x":0.14,"y":0.46,"v":9},{"x":0.16,"y":0.46,"v":9},{"x":0.2,"y":0.46,"v":6},
{"x":-0.16,"y":0.44,"v":6},{"x":-0.14,"y":0.44,"v":9},{"x":-0.12,"y":0.44,"v":4},{"x":-0.1,"y":0.44,"v":9},{"x":-0.08,"y":0.44,"v":9},{"x":-0.06,"y":0.44,"v":16},{"x":-0.04,"y":0.44,"v":24},{"x":-0.02,"y":0.44,"v":24},{"x":0,"y":0.44,"v":24},{"x":0.02,"y":0.44,"v":24},{"x":0.04,"y":0.44,"v":16},{"x":0.06,"y":0.44,"v":9},{"x":0.08,"y":0.44,"v":12},{"x":0.1,"y":0.44,"v":9},{"x":0.12,"y":0.44,"v":9},{"x":0.14,"y":0.44,"v":4},{"x":0.16,"y":0.44,"v":6},
{"x":-0.16,"y":0.42,"v":6},{"x":-0.14,"y":0.42,"v":4},{"x":-0.12,"y":0.42,"v":6},{"x":-0.1,"y":0.42,"v":9},{"x":-0.08,"y":0.42,"v":6},{"x":-0.06,"y":0.42,"v":12},{"x":-0.04,"y":0.42,"v":16},{"x":-0.02,"y":0.42,"v":12},{"x":0,"y":0.42,"v":12},{"x":0.02,"y":0.42,"v":12},{"x":0.04,"y":0.42,"v":12},{"x":0.06,"y":0.42,"v":9},{"x":0.08,"y":0.42,"v":9},{"x":0.1,"y":0.42,"v":6},{"x":0.12,"y":0.42,"v":9},{"x":0.14,"y":0.42,"v":6},{"x":0.26,"y":0.42,"v":6},
{"x":-0.14,"y":0.4,"v":4},{"x":-0.12,"y":0.4,"v":4},{"x":-0.1,"y":0.4,"v":9},{"x":-0.08,"y":0.4,"v":12},{"x":-0.06,"y":0.4,"v":16},{"x":-0.04,"y":0.4,"v":12},{"x":-0.02,"y":0.4,"v":12},{"x":0,"y":0.4,"v":12},{"x":0.02,"y":0.4,"v":12},{"x":0.04,"y":0.4,"v":12},{"x":0.06,"y":0.4,"v":9},{"x":0.08,"y":0.4,"v":9},{"x":0.1,"y":0.4,"v":4},{"x":0.14,"y":0.4,"v":9},{"x":0.18,"y":0.4,"v":4},
{"x":-0.2,"y":0.38,"v":6},{"x":-0.16,"y":0.38,"v":6},{"x":-0.12,"y":0.38,"v":6},{"x":-0.1,"y":0.38,"v":9},{"x":-0.08,"y":0.38,"v":9},{"x":-0.04,"y":0.38,"v":6},{"x":-0.02,"y":0.38,"v":6},{"x":0,"y":0.38,"v":9},{"x":0.02,"y":0.38,"v":4},{"x":0.04,"y":0.38,"v":4},{"x":0.06,"y":0.38,"v":4},{"x":0.08,"y":0.38,"v":4},{"x":0.14,"y":0.38,"v":9},
{"x":-0.24,"y":0.36,"v":4},{"x":-0.18,"y":0.36,"v":6},{"x":-0.12,"y":0.36,"v":6},{"x":-0.1,"y":0.36,"v":6},{"x":-0.08,"y":0.36,"v":6},{"x":-0.04,"y":0.36,"v":4},{"x":-0.02,"y":0.36,"v":12},{"x":0,"y":0.36,"v":4},{"x":0.02,"y":0.36,"v":6},{"x":0.06,"y":0.36,"v":6},{"x":0.1,"y":0.36,"v":4},{"x":0.16,"y":0.36,"v":4},{"x":0.2,"y":0.36,"v":4},{"x":0.24,"y":0.36,"v":6},
{"x":-0.18,"y":0.34,"v":6},{"x":-0.1,"y":0.34,"v":9},{"x":-0.08,"y":0.34,"v":9},{"x":-0.02,"y":0.34,"v":9},{"x":0,"y":0.34,"v":6},{"x":0.04,"y":0.34,"v":9},{"x":0.1,"y":0.34,"v":4},{"x":0.12,"y":0.34,"v":6},{"x":0.16,"y":0.34,"v":9},
{"x":-0.18,"y":0.32,"v":4},{"x":-0.1,"y":0.32,"v":12},{"x":-0.04,"y":0.32,"v":6},{"x":-0.02,"y":0.32,"v":4},{"x":0,"y":0.32,"v":4},{"x":0.02,"y":0.32,"v":6},{"x":0.16,"y":0.32,"v":4},{"x":0.18,"y":0.32,"v":4},
{"x":-0.14,"y":0.3,"v":4},{"x":-0.12,"y":0.3,"v":4},{"x":-0.1,"y":0.3,"v":4},{"x":-0.08,"y":0.3,"v":4},{"x":-0.06,"y":0.3,"v":6},{"x":-0.04,"y":0.3,"v":6},{"x":-0.02,"y":0.3,"v":9},{"x":0,"y":0.3,"v":9},{"x":0.04,"y":0.3,"v":9},{"x":0.18,"y":0.3,"v":4},
{"x":-0.1,"y":0.28,"v":9},{"x":-0.06,"y":0.28,"v":6},{"x":-0.04,"y":0.28,"v":6},{"x":-0.02,"y":0.28,"v":6},{"x":0,"y":0.28,"v":9},{"x":0.02,"y":0.28,"v":6},{"x":0.08,"y":0.28,"v":6},
{"x":-0.16,"y":0.26,"v":4},{"x":-0.12,"y":0.26,"v":6},{"x":-0.08,"y":0.26,"v":9},{"x":-0.04,"y":0.26,"v":9},{"x":-0.02,"y":0.26,"v":4},{"x":0,"y":0.26,"v":6},{"x":0.02,"y":0.26,"v":6},{"x":0.06,"y":0.26,"v":9},{"x":0.08,"y":0.26,"v":4},{"x":0.2,"y":0.26,"v":4},{"x":0.22,"y":0.26,"v":4},
{"x":-0.22,"y":0.24,"v":6},{"x":-0.18,"y":0.24,"v":4},{"x":-0.14,"y":0.24,"v":6},{"x":-0.12,"y":0.24,"v":9},{"x":-0.1,"y":0.24,"v":9},{"x":-0.06,"y":0.24,"v":4},{"x":-0.02,"y":0.24,"v":6},{"x":0,"y":0.24,"v":6},{"x":0.04,"y":0.24,"v":4},{"x":0.08,"y":0.24,"v":6},{"x":0.14,"y":0.24,"v":4},{"x":0.2,"y":0.24,"v":4},{"x":0.24,"y":0.24,"v":4},
{"x":-0.16,"y":0.22,"v":4},{"x":-0.14,"y":0.22,"v":4},{"x":-0.1,"y":0.22,"v":6},{"x":-0.06,"y":0.22,"v":9},{"x":-0.02,"y":0.22,"v":9},{"x":0.02,"y":0.22,"v":9},{"x":0.06,"y":0.22,"v":6},{"x":0.1,"y":0.22,"v":4},{"x":0.12,"y":0.22,"v":4},{"x":0.18,"y":0.22,"v":6},
{"x":-0.2,"y":0.2,"v":6},{"x":-0.14,"y":0.2,"v":9},{"x":-0.1,"y":0.2,"v":4},{"x":-0.06,"y":0.2,"v":4},{"x":-0.04,"y":0.2,"v":9},{"x":0,"y":0.2,"v":9},{"x":0.02,"y":0.2,"v":4},{"x":0.06,"y":0.2,"v":9},{"x":0.1,"y":0.2,"v":4},{"x":0.16,"y":0.2,"v":6},{"x":0.22,"y":0.2,"v":4},
{"x":-0.14,"y":0.18,"v":4},{"x":-0.1,"y":0.18,"v":9},{"x":-0.08,"y":0.18,"v":9},{"x":-0.06,"y":0.18,"v":6},{"x":-0.04,"y":0.18,"v":4},{"x":-0.02,"y":0.18,"v":9},{"x":0,"y":0.18,"v":9},{"x":0.02,"y":0.18,"v":6},{"x":0.04,"y":0.18,"v":4},{"x":0.06,"y":0.18,"v":4},{"x":0.08,"y":0.18,"v":4},{"x":0.12,"y":0.18,"v":6},{"x":0.18,"y":0.18,"v":4},{"x":0.22,"y":0.18,"v":6},
{"x":-0.12,"y":0.16,"v":4},{"x":-0.1,"y":0.16,"v":9},{"x":-0.08,"y":0.16,"v":4},{"x":-0.06,"y":0.16,"v":9},{"x":-0.04,"y":0.16,"v":9},{"x":-0.02,"y":0.16,"v":9},{"x":0,"y":0.16,"v":9},{"x":0.02,"y":0.16,"v":9},{"x":0.04,"y":0.16,"v":9},{"x":0.06,"y":0.16,"v":4},{"x":0.1,"y":0.16,"v":9},{"x":0.14,"y":0.16,"v":4},
{"x":-0.2,"y":0.14,"v":4},{"x":-0.18,"y":0.14,"v":4},{"x":-0.14,"y":0.14,"v":9},{"x":-0.1,"y":0.14,"v":4},{"x":-0.08,"y":0.14,"v":9},{"x":-0.06,"y":0.14,"v":9},{"x":-0.04,"y":0.14,"v":9},{"x":-0.02,"y":0.14,"v":9},{"x":0,"y":0.14,"v":9},{"x":0.02,"y":0.14,"v":9},{"x":0.04,"y":0.14,"v":9},{"x":0.06,"y":0.14,"v":6},{"x":0.1,"y":0.14,"v":4},{"x":0.12,"y":0.14,"v":6},{"x":0.14,"y":0.14,"v":6},{"x":0.22,"y":0.14,"v":6},
{"x":-0.24,"y":0.12,"v":4},{"x":-0.22,"y":0.12,"v":4},{"x":-0.18,"y":0.12,"v":4},{"x":-0.16,"y":0.12,"v":4},{"x":-0.14,"y":0.12,"v":4},{"x":-0.12,"y":0.12,"v":4},{"x":-0.1,"y":0.12,"v":4},{"x":-0.08,"y":0.12,"v":9},{"x":-0.06,"y":0.12,"v":6},{"x":-0.04,"y":0.12,"v":12},{"x":-0.02,"y":0.12,"v":16},{"x":0,"y":0.12,"v":12},{"x":0.02,"y":0.12,"v":16},{"x":0.04,"y":0.12,"v":9},{"x":0.06,"y":0.12,"v":9},{"x":0.08,"y":0.12,"v":4},{"x":0.1,"y":0.12,"v":6},{"x":0.14,"y":0.12,"v":4},{"x":0.16,"y":0.12,"v":4},{"x":0.18,"y":0.12,"v":4},{"x":0.2,"y":0.12,"v":4},
{"x":-0.22,"y":0.1,"v":9},{"x":-0.18,"y":0.1,"v":4},{"x":-0.14,"y":0.1,"v":4},{"x":-0.12,"y":0.1,"v":6},{"x":-0.1,"y":0.1,"v":9},{"x":-0.08,"y":0.1,"v":9},{"x":-0.06,"y":0.1,"v":12},{"x":-0.04,"y":0.1,"v":24},{"x":-0.02,"y":0.1,"v":12},{"x":0,"y":0.1,"v":24},{"x":0.02,"y":0.1,"v":24},{"x":0.04,"y":0.1,"v":16},{"x":0.06,"y":0.1,"v":12},{"x":0.08,"y":0.1,"v":9},{"x":0.1,"y":0.1,"v":9},{"x":0.12,"y":0.1,"v":6},{"x":0.14,"y":0.1,"v":4},{"x":0.18,"y":0.1,"v":4},{"x":0.24,"y":0.1,"v":4},
{"x":-0.18,"y":0.08,"v":6},{"x":-0.14,"y":0.08,"v":9},{"x":-0.12,"y":0.08,"v":9},{"x":-0.1,"y":0.08,"v":12},{"x":-0.08,"y":0.08,"v":16},{"x":-0.06,"y":0.08,"v":16},{"x":-0.04,"y":0.08,"v":24},{"x":-0.02,"y":0.08,"v":24},{"x":0,"y":0.08,"v":24},{"x":0.02,"y":0.08,"v":24},{"x":0.04,"y":0.08,"v":24},{"x":0.06,"y":0.08,"v":12},{"x":0.08,"y":0.08,"v":12},{"x":0.1,"y":0.08,"v":6},{"x":0.14,"y":0.08,"v":4},{"x":0.16,"y":0.08,"v":6},{"x":0.2,"y":0.08,"v":6},{"x":0.22,"y":0.08,"v":6},
{"x":-0.24,"y":0.06,"v":4},{"x":-0.2,"y":0.06,"v":9},{"x":-0.16,"y":0.06,"v":24},{"x":-0.12,"y":0.06,"v":12},{"x":-0.1,"y":0.06,"v":16},{"x":-0.08,"y":0.06,"v":24},{"x":-0.06,"y":0.06,"v":24},{"x":-0.04,"y":0.06,"v":24},{"x":-0.02,"y":0.06,"v":40},{"x":0,"y":0.06,"v":24},{"x":0.02,"y":0.06,"v":24},{"x":0.04,"y":0.06,"v":24},{"x":0.06,"y":0.06,"v":16},{"x":0.08,"y":0.06,"v":12},{"x":0.1,"y":0.06,"v":9},{"x":0.12,"y":0.06,"v":6},{"x":0.16,"y":0.06,"v":6},{"x":0.18,"y":0.06,"v":6},{"x":0.2,"y":0.06,"v":6},
{"x":-0.22,"y":0.04,"v":6},{"x":-0.18,"y":0.04,"v":6},{"x":-0.14,"y":0.04,"v":9},{"x":-0.12,"y":0.04,"v":12},{"x":-0.1,"y":0.04,"v":16},{"x":-0.08,"y":0.04,"v":24},{"x":-0.06,"y":0.04,"v":40},{"x":-0.04,"y":0.04,"v":40},{"x":-0.02,"y":0.04,"v":24},{"x":0,"y":0.04,"v":40},{"x":0.02,"y":0.04,"v":40},{"x":0.04,"y":0.04,"v":24},{"x":0.06,"y":0.04,"v":16},{"x":0.08,"y":0.04,"v":12},{"x":0.1,"y":0.04,"v":6},{"x":0.14,"y":0.04,"v":4},{"x":0.18,"y":0.04,"v":4},{"x":0.22,"y":0.04,"v":4},
{"x":-0.24,"y":0.02,"v":6},{"x":-0.18,"y":0.02,"v":4},{"x":-0.14,"y":0.02,"v":9},{"x":-0.12,"y":0.02,"v":9},{"x":-0.1,"y":0.02,"v":12},{"x":-0.08,"y":0.02,"v":24},{"x":-0.06,"y":0.02,"v":24},{"x":-0.04,"y":0.02,"v":24},{"x":-0.02,"y":0.02,"v":24},{"x":0,"y":0.02,"v":40},{"x":0.02,"y":0.02,"v":40},{"x":0.04,"y":0.02,"v":24},{"x":0.06,"y":0.02,"v":24},{"x":0.08,"y":0.02,"v":12},{"x":0.1,"y":0.02,"v":9},{"x":0.14,"y":0.02,"v":6},{"x":0.16,"y":0.02,"v":6},{"x":0.18,"y":0.02,"v":6},{"x":0.2,"y":0.02,"v":9},
{"x":-0.16,"y":0,"v":6},{"x":-0.14,"y":0,"v":9},{"x":-0.12,"y":0,"v":9},{"x":-0.1,"y":0,"v":9},{"x":-0.08,"y":0,"v":24},{"x":-0.06,"y":0,"v":24},{"x":-0.04,"y":0,"v":40},{"x":-0.02,"y":0,"v":40},{"x":0,"y":0,"v":24},{"x":0.02,"y":0,"v":24},{"x":0.04,"y":0,"v":24},{"x":0.06,"y":0,"v":24},{"x":0.08,"y":0,"v":12},{"x":0.1,"y":0,"v":9},{"x":0.12,"y":0,"v":6},{"x":0.16,"y":0,"v":6},{"x":0.18,"y":0,"v":9},{"x":0.2,"y":0,"v":4},
{"x":-0.22,"y":-0.02,"v":4},{"x":-0.18,"y":-0.02,"v":6},{"x":-0.14,"y":-0.02,"v":9},{"x":-0.12,"y":-0.02,"v":9},{"x":-0.1,"y":-0.02,"v":16},{"x":-0.08,"y":-0.02,"v":24},{"x":-0.06,"y":-0.02,"v":40},{"x":-0.04,"y":-0.02,"v":40},{"x":-0.02,"y":-0.02,"v":40},{"x":0,"y":-0.02,"v":24},{"x":0.02,"y":-0.02,"v":24},{"x":0.04,"y":-0.02,"v":4},{"x":0.06,"y":-0.02,"v":24},{"x":0.08,"y":-0.02,"v":9},{"x":0.1,"y":-0.02,"v":9},{"x":0.12,"y":-0.02,"v":6},{"x":0.16,"y":-0.02,"v":6},{"x":0.2,"y":-0.02,"v":6},
{"x":-0.24,"y":-0.04,"v":4},{"x":-0.2,"y":-0.04,"v":4},{"x":-0.14,"y":-0.04,"v":9},{"x":-0.12,"y":-0.04,"v":12},{"x":-0.1,"y":-0.04,"v":16},{"x":-0.08,"y":-0.04,"v":24},{"x":-0.06,"y":-0.04,"v":40},{"x":-0.04,"y":-0.04,"v":40},{"x":-0.02,"y":-0.04,"v":24},{"x":0,"y":-0.04,"v":24},{"x":0.02,"y":-0.04,"v":24},{"x":0.04,"y":-0.04,"v":24},{"x":0.06,"y":-0.04,"v":12},{"x":0.08,"y":-0.04,"v":9},{"x":0.1,"y":-0.04,"v":6},{"x":0.14,"y":-0.04,"v":6},{"x":0.18,"y":-0.04,"v":9},{"x":0.2,"y":-0.04,"v":4},
{"x":-0.18,"y":-0.06,"v":6},{"x":-0.16,"y":-0.06,"v":6},{"x":-0.12,"y":-0.06,"v":6},{"x":-0.1,"y":-0.06,"v":12},{"x":-0.08,"y":-0.06,"v":16},{"x":-0.06,"y":-0.06,"v":24},{"x":-0.04,"y":-0.06,"v":40},{"x":-0.02,"y":-0.06,"v":24},{"x":0,"y":-0.06,"v":40},{"x":0.02,"y":-0.06,"v":24},{"x":0.04,"y":-0.06,"v":12},{"x":0.06,"y":-0.06,"v":12},{"x":0.08,"y":-0.06,"v":9},{"x":0.1,"y":-0.06,"v":4},{"x":0.14,"y":-0.06,"v":6},{"x":0.18,"y":-0.06,"v":4},
{"x":-0.24,"y":-0.08,"v":6},{"x":-0.18,"y":-0.08,"v":6},{"x":-0.14,"y":-0.08,"v":6},{"x":-0.12,"y":-0.08,"v":9},{"x":-0.1,"y":-0.08,"v":12},{"x":-0.08,"y":-0.08,"v":16},{"x":-0.06,"y":-0.08,"v":24},{"x":-0.04,"y":-0.08,"v":24},{"x":-0.02,"y":-0.08,"v":24},{"x":0,"y":-0.08,"v":24},{"x":0.02,"y":-0.08,"v":24},{"x":0.04,"y":-0.08,"v":12},{"x":0.06,"y":-0.08,"v":9},{"x":0.08,"y":-0.08,"v":4},{"x":0.1,"y":-0.08,"v":6},{"x":0.12,"y":-0.08,"v":6},{"x":0.16,"y":-0.08,"v":4},{"x":0.2,"y":-0.08,"v":6},
{"x":-0.2,"y":-0.1,"v":4},{"x":-0.14,"y":-0.1,"v":6},{"x":-0.12,"y":-0.1,"v":6},{"x":-0.1,"y":-0.1,"v":9},{"x":-0.08,"y":-0.1,"v":12},{"x":-0.06,"y":-0.1,"v":24},{"x":-0.04,"y":-0.1,"v":24},{"x":-0.02,"y":-0.1,"v":24},{"x":0,"y":-0.1,"v":24},{"x":0.02,"y":-0.1,"v":16},{"x":0.04,"y":-0.1,"v":16},{"x":0.06,"y":-0.1,"v":12},{"x":0.08,"y":-0.1,"v":6},{"x":0.1,"y":-0.1,"v":4},{"x":0.12,"y":-0.1,"v":4},{"x":0.14,"y":-0.1,"v":6},{"x":0.18,"y":-0.1,"v":6},
{"x":-0.24,"y":-0.12,"v":6},{"x":-0.22,"y":-0.12,"v":4},{"x":-0.12,"y":-0.12,"v":6},{"x":-0.1,"y":-0.12,"v":9},{"x":-0.08,"y":-0.12,"v":9},{"x":-0.06,"y":-0.12,"v":12},{"x":-0.04,"y":-0.12,"v":16},{"x":-0.02,"y":-0.12,"v":24},{"x":0,"y":-0.12,"v":16},{"x":0.02,"y":-0.12,"v":16},{"x":0.04,"y":-0.12,"v":12},{"x":0.06,"y":-0.12,"v":9},{"x":0.08,"y":-0.12,"v":4},{"x":0.1,"y":-0.12,"v":4},{"x":0.14,"y":-0.12,"v":4},{"x":0.16,"y":-0.12,"v":6},{"x":0.2,"y":-0.12,"v":4},
{"x":-0.08,"y":-0.14,"v":9},{"x":-0.06,"y":-0.14,"v":12},{"x":-0.04,"y":-0.14,"v":12},{"x":-0.02,"y":-0.14,"v":12},{"x":0,"y":-0.14,"v":24},{"x":0.02,"y":-0.14,"v":12},{"x":0.04,"y":-0.14,"v":9},{"x":0.06,"y":-0.14,"v":9},{"x":0.12,"y":-0.14,"v":4},{"x":0.2,"y":-0.14,"v":4},{"x":0.22,"y":-0.14,"v":4},
{"x":-0.18,"y":-0.16,"v":4},{"x":-0.08,"y":-0.16,"v":4},{"x":-0.06,"y":-0.16,"v":4},{"x":-0.04,"y":-0.16,"v":12},{"x":-0.02,"y":-0.16,"v":9},{"x":0,"y":-0.16,"v":9},{"x":0.02,"y":-0.16,"v":9},{"x":0.04,"y":-0.16,"v":9},{"x":0.06,"y":-0.16,"v":4},{"x":0.1,"y":-0.16,"v":4},{"x":0.14,"y":-0.16,"v":6},
{"x":-0.2,"y":-0.18,"v":6},{"x":-0.12,"y":-0.18,"v":4},{"x":-0.08,"y":-0.18,"v":9},{"x":-0.02,"y":-0.18,"v":6},{"x":0,"y":-0.18,"v":4},{"x":0.02,"y":-0.18,"v":6},{"x":0.22,"y":-0.18,"v":4},{"x":0.18,"y":-0.18,"v":6},
{"x":-0.12,"y":-0.2,"v":4},{"x":-0.1,"y":-0.2,"v":4},{"x":-0.08,"y":-0.2,"v":4},{"x":-0.06,"y":-0.2,"v":4},{"x":-0.04,"y":-0.2,"v":12},{"x":-0.02,"y":-0.2,"v":4},{"x":0.02,"y":-0.2,"v":4},{"x":0.04,"y":-0.2,"v":4},{"x":0.12,"y":-0.2,"v":6},{"x":0.22,"y":-0.2,"v":6},
{"x":-0.1,"y":-0.22,"v":6},{"x":-0.08,"y":-0.22,"v":6},{"x":-0.04,"y":-0.22,"v":6},{"x":0,"y":-0.22,"v":6},{"x":0.04,"y":-0.22,"v":9},{"x":0.18,"y":-0.22,"v":6},
{"x":-0.02,"y":-0.26,"v":4},{"x":0.02,"y":-0.26,"v":6},{"x":0.04,"y":-0.26,"v":4},{"x":0.18,"y":-0.26,"v":4},{"x":0.2,"y":-0.26,"v":6},{"x":0.22,"y":-0.26,"v":4},
{"x":-0.22,"y":-0.28,"v":4},{"x":-0.2,"y":-0.28,"v":4},{"x":-0.14,"y":-0.28,"v":6},{"x":-0.1,"y":-0.28,"v":4},{"x":-0.06,"y":-0.28,"v":6},{"x":-0.04,"y":-0.28,"v":9},{"x":-0.02,"y":-0.28,"v":4},{"x":0.06,"y":-0.28,"v":4},{"x":0.08,"y":-0.28,"v":4},{"x":0.18,"y":-0.28,"v":4},{"x":0.2,"y":-0.28,"v":9},{"x":0.22,"y":-0.28,"v":4},
{"x":-0.24,"y":-0.3,"v":4},{"x":-0.18,"y":-0.3,"v":6},{"x":-0.06,"y":-0.3,"v":6},{"x":-0.02,"y":-0.3,"v":9},{"x":0.02,"y":-0.3,"v":6},{"x":0.1,"y":-0.3,"v":4},{"x":0.16,"y":-0.3,"v":9},{"x":0.2,"y":-0.3,"v":4},
{"x":-0.18,"y":-0.32,"v":4},{"x":-0.06,"y":-0.32,"v":6},{"x":-0.04,"y":-0.32,"v":6},{"x":-0.02,"y":-0.32,"v":6},{"x":0.02,"y":-0.32,"v":4},{"x":0.08,"y":-0.32,"v":6},{"x":0.18,"y":-0.32,"v":6},{"x":0.2,"y":-0.32,"v":4},
{"x":-0.14,"y":-0.34,"v":6},{"x":-0.12,"y":-0.34,"v":6},{"x":-0.1,"y":-0.34,"v":6},{"x":-0.04,"y":-0.34,"v":4},{"x":-0.02,"y":-0.34,"v":9},{"x":0,"y":-0.34,"v":9},{"x":0.06,"y":-0.34,"v":9},{"x":0.1,"y":-0.34,"v":4},{"x":0.12,"y":-0.34,"v":6},{"x":0.16,"y":-0.34,"v":6},{"x":0.18,"y":-0.34,"v":6},{"x":0.2,"y":-0.34,"v":4},
{"x":-0.22,"y":-0.36,"v":4},{"x":-0.12,"y":-0.36,"v":6},{"x":-0.08,"y":-0.36,"v":9},{"x":-0.06,"y":-0.36,"v":6},{"x":-0.04,"y":-0.36,"v":9},{"x":-0.02,"y":-0.36,"v":9},{"x":0,"y":-0.36,"v":9},{"x":0.02,"y":-0.36,"v":6},{"x":0.04,"y":-0.36,"v":12},{"x":0.06,"y":-0.36,"v":9},{"x":0.08,"y":-0.36,"v":4},{"x":0.12,"y":-0.36,"v":6},{"x":0.18,"y":-0.36,"v":4},{"x":0.2,"y":-0.36,"v":6},
{"x":-0.24,"y":-0.38,"v":4},{"x":-0.22,"y":-0.38,"v":4},{"x":-0.18,"y":-0.38,"v":9},{"x":-0.16,"y":-0.38,"v":4},{"x":-0.12,"y":-0.38,"v":9},{"x":-0.08,"y":-0.38,"v":9},{"x":-0.06,"y":-0.38,"v":16},{"x":-0.04,"y":-0.38,"v":16},{"x":-0.02,"y":-0.38,"v":16},{"x":0,"y":-0.38,"v":12},{"x":0.02,"y":-0.38,"v":12},{"x":0.04,"y":-0.38,"v":9},{"x":0.06,"y":-0.38,"v":6},{"x":0.1,"y":-0.38,"v":6},{"x":0.14,"y":-0.38,"v":9},{"x":0.18,"y":-0.38,"v":9},{"x":0.2,"y":-0.38,"v":4},
{"x":-0.22,"y":-0.4,"v":9},{"x":-0.18,"y":-0.4,"v":9},{"x":-0.16,"y":-0.4,"v":9},{"x":-0.12,"y":-0.4,"v":12},{"x":-0.1,"y":-0.4,"v":12},{"x":-0.08,"y":-0.4,"v":16},{"x":-0.06,"y":-0.4,"v":16},{"x":-0.04,"y":-0.4,"v":24},{"x":-0.02,"y":-0.4,"v":24},{"x":0,"y":-0.4,"v":16},{"x":0.02,"y":-0.4,"v":16},{"x":0.04,"y":-0.4,"v":12},{"x":0.06,"y":-0.4,"v":9},{"x":0.1,"y":-0.4,"v":9},{"x":0.12,"y":-0.4,"v":9},{"x":0.14,"y":-0.4,"v":6},{"x":0.18,"y":-0.4,"v":9},{"x":0.2,"y":-0.4,"v":6},{"x":0.22,"y":-0.4,"v":4},
{"x":-0.24,"y":-0.42,"v":9},{"x":-0.22,"y":-0.42,"v":9},{"x":-0.2,"y":-0.42,"v":9},{"x":-0.18,"y":-0.42,"v":9},{"x":-0.16,"y":-0.42,"v":6},{"x":-0.14,"y":-0.42,"v":9},{"x":-0.12,"y":-0.42,"v":16},{"x":-0.1,"y":-0.42,"v":24},{"x":-0.08,"y":-0.42,"v":24},{"x":-0.06,"y":-0.42,"v":24},{"x":-0.04,"y":-0.42,"v":24},{"x":-0.02,"y":-0.42,"v":24},{"x":0,"y":-0.42,"v":24},{"x":0.02,"y":-0.42,"v":16},{"x":0.04,"y":-0.42,"v":12},{"x":0.06,"y":-0.42,"v":12},{"x":0.08,"y":-0.42,"v":6},{"x":0.1,"y":-0.42,"v":9},{"x":0.12,"y":-0.42,"v":9},{"x":0.14,"y":-0.42,"v":9},{"x":0.16,"y":-0.42,"v":4},{"x":0.18,"y":-0.42,"v":6},{"x":0.2,"y":-0.42,"v":6},{"x":0.22,"y":-0.42,"v":4},
{"x":-0.24,"y":-0.44,"v":9},{"x":-0.22,"y":-0.44,"v":4},{"x":-0.2,"y":-0.44,"v":9},{"x":-0.18,"y":-0.44,"v":12},{"x":-0.16,"y":-0.44,"v":9},{"x":-0.14,"y":-0.44,"v":12},{"x":-0.12,"y":-0.44,"v":24},{"x":-0.1,"y":-0.44,"v":24},{"x":-0.08,"y":-0.44,"v":24},{"x":-0.06,"y":-0.44,"v":24},{"x":-0.04,"y":-0.44,"v":40},{"x":-0.02,"y":-0.44,"v":24},{"x":0,"y":-0.44,"v":24},{"x":0.02,"y":-0.44,"v":24},{"x":0.04,"y":-0.44,"v":24},{"x":0.06,"y":-0.44,"v":16},{"x":0.08,"y":-0.44,"v":9},{"x":0.1,"y":-0.44,"v":9},{"x":0.12,"y":-0.44,"v":9},{"x":0.14,"y":-0.44,"v":6},{"x":0.16,"y":-0.44,"v":9},{"x":0.18,"y":-0.44,"v":9},{"x":0.2,"y":-0.44,"v":9},{"x":0.22,"y":-0.44,"v":6},
{"x":-0.24,"y":-0.46,"v":12},{"x":-0.22,"y":-0.46,"v":12},{"x":-0.2,"y":-0.46,"v":12},{"x":-0.18,"y":-0.46,"v":9},{"x":-0.16,"y":-0.46,"v":16},{"x":-0.14,"y":-0.46,"v":24},{"x":-0.12,"y":-0.46,"v":24},{"x":-0.1,"y":-0.46,"v":24},{"x":-0.08,"y":-0.46,"v":40},{"x":-0.06,"y":-0.46,"v":40},{"x":-0.04,"y":-0.46,"v":40},{"x":-0.02,"y":-0.46,"v":40},{"x":0,"y":-0.46,"v":24},{"x":0.02,"y":-0.46,"v":24},{"x":0.04,"y":-0.46,"v":24},{"x":0.06,"y":-0.46,"v":24},{"x":0.08,"y":-0.46,"v":12},{"x":0.1,"y":-0.46,"v":12},{"x":0.12,"y":-0.46,"v":9},{"x":0.14,"y":-0.46,"v":9},{"x":0.16,"y":-0.46,"v":4},{"x":0.18,"y":-0.46,"v":6},{"x":0.2,"y":-0.46,"v":4},{"x":0.22,"y":-0.46,"v":9},
{"x":-0.24,"y":-0.48,"v":9},{"x":-0.22,"y":-0.48,"v":9},{"x":-0.2,"y":-0.48,"v":4},{"x":-0.18,"y":-0.48,"v":12},{"x":-0.16,"y":-0.48,"v":16},{"x":-0.14,"y":-0.48,"v":16},{"x":-0.12,"y":-0.48,"v":24},{"x":-0.1,"y":-0.48,"v":40},{"x":-0.08,"y":-0.48,"v":40},{"x":-0.06,"y":-0.48,"v":40},{"x":-0.04,"y":-0.48,"v":40},{"x":-0.02,"y":-0.48,"v":40},{"x":0,"y":-0.48,"v":40},{"x":0.02,"y":-0.48,"v":24},{"x":0.04,"y":-0.48,"v":24},{"x":0.06,"y":-0.48,"v":24},{"x":0.08,"y":-0.48,"v":12},{"x":0.1,"y":-0.48,"v":12},{"x":0.12,"y":-0.48,"v":12},{"x":0.14,"y":-0.48,"v":9},{"x":0.16,"y":-0.48,"v":6},{"x":0.18,"y":-0.48,"v":4},{"x":0.2,"y":-0.48,"v":9},{"x":0.22,"y":-0.48,"v":9},
{"x":-0.24,"y":-0.5,"v":6},{"x":-0.22,"y":-0.5,"v":9},{"x":-0.2,"y":-0.5,"v":9},{"x":-0.18,"y":-0.5,"v":12},{"x":-0.16,"y":-0.5,"v":12},{"x":-0.14,"y":-0.5,"v":12},{"x":-0.12,"y":-0.5,"v":24},{"x":-0.1,"y":-0.5,"v":40},{"x":-0.08,"y":-0.5,"v":40},{"x":-0.06,"y":-0.5,"v":40},{"x":-0.04,"y":-0.5,"v":40},{"x":-0.02,"y":-0.5,"v":40},{"x":0,"y":-0.5,"v":40},{"x":0.02,"y":-0.5,"v":40},{"x":0.04,"y":-0.5,"v":24},{"x":0.06,"y":-0.5,"v":24},{"x":0.08,"y":-0.5,"v":12},{"x":0.1,"y":-0.5,"v":12},{"x":0.12,"y":-0.5,"v":12},{"x":0.14,"y":-0.5,"v":9},{"x":0.16,"y":-0.5,"v":4},{"x":0.18,"y":-0.5,"v":4},{"x":0.2,"y":-0.5,"v":4},{"x":0.22,"y":-0.5,"v":9},
{"x":-0.24,"y":-0.52,"v":4},{"x":-0.22,"y":-0.52,"v":12},{"x":-0.2,"y":-0.52,"v":12},{"x":-0.18,"y":-0.52,"v":9},{"x":-0.16,"y":-0.52,"v":16},{"x":-0.14,"y":-0.52,"v":16},{"x":-0.12,"y":-0.52,"v":24},{"x":-0.1,"y":-0.52,"v":24},{"x":-0.08,"y":-0.52,"v":40},{"x":-0.06,"y":-0.52,"v":40},{"x":-0.04,"y":-0.52,"v":40},{"x":-0.02,"y":-0.52,"v":40},{"x":0,"y":-0.52,"v":40},{"x":0.02,"y":-0.52,"v":24},{"x":0.04,"y":-0.52,"v":24},{"x":0.06,"y":-0.52,"v":24},{"x":0.08,"y":-0.52,"v":9},{"x":0.1,"y":-0.52,"v":9},{"x":0.12,"y":-0.52,"v":9},{"x":0.14,"y":-0.52,"v":4},{"x":0.16,"y":-0.52,"v":4},{"x":0.18,"y":-0.52,"v":4},{"x":0.2,"y":-0.52,"v":12},{"x":0.22,"y":-0.52,"v":9},
{"x":-0.24,"y":-0.54,"v":6},{"x":-0.22,"y":-0.54,"v":9},{"x":-0.2,"y":-0.54,"v":6},{"x":-0.18,"y":-0.54,"v":9},{"x":-0.16,"y":-0.54,"v":12},{"x":-0.14,"y":-0.54,"v":16},{"x":-0.12,"y":-0.54,"v":16},{"x":-0.1,"y":-0.54,"v":24},{"x":-0.08,"y":-0.54,"v":24},{"x":-0.06,"y":-0.54,"v":40},{"x":-0.04,"y":-0.54,"v":24},{"x":-0.02,"y":-0.54,"v":12},{"x":0,"y":-0.54,"v":24},{"x":0.02,"y":-0.54,"v":24},{"x":0.04,"y":-0.54,"v":16},{"x":0.06,"y":-0.54,"v":12},{"x":0.08,"y":-0.54,"v":9},{"x":0.1,"y":-0.54,"v":12},{"x":0.12,"y":-0.54,"v":9},{"x":0.14,"y":-0.54,"v":4},{"x":0.18,"y":-0.54,"v":4},{"x":0.2,"y":-0.54,"v":4},{"x":0.22,"y":-0.54,"v":6},
{"x":-0.2,"y":-0.56,"v":6},{"x":-0.18,"y":-0.56,"v":6},{"x":-0.16,"y":-0.56,"v":9},{"x":-0.14,"y":-0.56,"v":9},{"x":-0.12,"y":-0.56,"v":12},{"x":-0.1,"y":-0.56,"v":16},{"x":-0.08,"y":-0.56,"v":24},{"x":-0.06,"y":-0.56,"v":24},{"x":-0.04,"y":-0.56,"v":24},{"x":-0.02,"y":-0.56,"v":24},{"x":0,"y":-0.56,"v":24},{"x":0.02,"y":-0.56,"v":12},{"x":0.04,"y":-0.56,"v":12},{"x":0.06,"y":-0.56,"v":9},{"x":0.08,"y":-0.56,"v":6},{"x":0.1,"y":-0.56,"v":9},{"x":0.12,"y":-0.56,"v":6},{"x":0.18,"y":-0.56,"v":6},{"x":0.2,"y":-0.56,"v":6},{"x":0.22,"y":-0.56,"v":6},
{"x":-0.24,"y":-0.58,"v":6},{"x":-0.14,"y":-0.58,"v":9},{"x":-0.12,"y":-0.58,"v":9},{"x":-0.1,"y":-0.58,"v":12},{"x":-0.08,"y":-0.58,"v":16},{"x":-0.06,"y":-0.58,"v":24},{"x":-0.04,"y":-0.58,"v":24},{"x":-0.02,"y":-0.58,"v":16},{"x":0,"y":-0.58,"v":24},{"x":0.02,"y":-0.58,"v":12},{"x":0.04,"y":-0.58,"v":12},{"x":0.06,"y":-0.58,"v":9},{"x":0.1,"y":-0.58,"v":4},{"x":0.14,"y":-0.58,"v":6},{"x":0.18,"y":-0.58,"v":6},
{"x":-0.12,"y":-0.6,"v":6},{"x":-0.1,"y":-0.6,"v":9},{"x":-0.08,"y":-0.6,"v":12},{"x":-0.06,"y":-0.6,"v":16},{"x":-0.04,"y":-0.6,"v":24},{"x":-0.02,"y":-0.6,"v":24},{"x":0,"y":-0.6,"v":12},{"x":0.02,"y":-0.6,"v":9},{"x":0.04,"y":-0.6,"v":6},{"x":0.1,"y":-0.6,"v":4},{"x":0.12,"y":-0.6,"v":4},
{"x":-0.22,"y":-0.62,"v":4},{"x":-0.14,"y":-0.62,"v":4},{"x":-0.1,"y":-0.62,"v":4},{"x":-0.08,"y":-0.62,"v":4},{"x":-0.06,"y":-0.62,"v":9},{"x":-0.04,"y":-0.62,"v":16},{"x":-0.02,"y":-0.62,"v":9},{"x":0,"y":-0.62,"v":4},{"x":0.02,"y":-0.62,"v":6},{"x":0.08,"y":-0.62,"v":6},
{"x":-0.08,"y":-0.64,"v":9},{"x":-0.06,"y":-0.64,"v":6},{"x":-0.02,"y":-0.64,"v":6},{"x":0,"y":-0.64,"v":6},{"x":0.02,"y":-0.64,"v":4},{"x":0.04,"y":-0.64,"v":4},
{"x":-0.02,"y":-0.66,"v":4},{"x":-0.02,"y":-0.68,"v":4},
{"x":0.5,"y":0.66,"v":4},{"x":0.48,"y":0.62,"v":4},{"x":0.5,"y":0.62,"v":4},{"x":0.42,"y":0.6,"v":4},{"x":0.46,"y":0.6,"v":4},{"x":0.48,"y":0.6,"v":4},{"x":0.5,"y":0.6,"v":4},
{"x":0.38,"y":0.59,"v":9},{"x":0.44,"y":0.59,"v":4},{"x":0.46,"y":0.59,"v":9},{"x":0.48,"y":0.59,"v":6},{"x":0.5,"y":0.59,"v":6},{"x":0.52,"y":0.59,"v":9},
{"x":0.28,"y":0.58,"v":4},{"x":0.38,"y":0.58,"v":4},{"x":0.42,"y":0.58,"v":4},{"x":0.44,"y":0.58,"v":12},{"x":0.46,"y":0.58,"v":6},{"x":0.48,"y":0.58,"v":9},{"x":0.5,"y":0.58,"v":9},{"x":0.52,"y":0.58,"v":9},
{"x":0.4,"y":0.56,"v":9},{"x":0.42,"y":0.56,"v":12},{"x":0.44,"y":0.56,"v":9},{"x":0.46,"y":0.56,"v":9},{"x":0.48,"y":0.56,"v":12},{"x":0.5,"y":0.56,"v":9},{"x":0.52,"y":0.56,"v":9},{"x":0.54,"y":0.56,"v":6},
{"x":0.32,"y":0.54,"v":4},{"x":0.4,"y":0.54,"v":9},{"x":0.42,"y":0.54,"v":9},{"x":0.44,"y":0.54,"v":12},{"x":0.46,"y":0.54,"v":16},{"x":0.48,"y":0.54,"v":16},{"x":0.5,"y":0.54,"v":12},{"x":0.52,"y":0.54,"v":6},{"x":0.54,"y":0.54,"v":9},
{"x":0.3,"y":0.52,"v":6},{"x":0.38,"y":0.52,"v":4},{"x":0.4,"y":0.52,"v":4},{"x":0.42,"y":0.52,"v":12},{"x":0.44,"y":0.52,"v":12},{"x":0.46,"y":0.52,"v":16},{"x":0.48,"y":0.52,"v":16},{"x":0.5,"y":0.52,"v":12},{"x":0.52,"y":0.52,"v":9},
{"x":0.26,"y":0.5,"v":4},{"x":0.3,"y":0.5,"v":6},{"x":0.38,"y":0.5,"v":6},{"x":0.4,"y":0.5,"v":4},{"x":0.42,"y":0.5,"v":16},{"x":0.44,"y":0.5,"v":16},{"x":0.46,"y":0.5,"v":24},{"x":0.48,"y":0.5,"v":24},{"x":0.5,"y":0.5,"v":16},{"x":0.52,"y":0.5,"v":12},{"x":0.54,"y":0.5,"v":4},{"x":0.56,"y":0.5,"v":4},
{"x":0.3,"y":0.48,"v":6},{"x":0.38,"y":0.48,"v":6},{"x":0.4,"y":0.48,"v":9},{"x":0.42,"y":0.48,"v":9},{"x":0.44,"y":0.48,"v":16},{"x":0.46,"y":0.48,"v":24},{"x":0.48,"y":0.48,"v":24},{"x":0.5,"y":0.48,"v":16},{"x":0.52,"y":0.48,"v":12},{"x":0.54,"y":0.48,"v":9},{"x":0.56,"y":0.48,"v":4},
{"x":0.4,"y":0.46,"v":12},{"x":0.42,"y":0.46,"v":12},{"x":0.44,"y":0.46,"v":12},{"x":0.46,"y":0.46,"v":24},{"x":0.48,"y":0.46,"v":16},{"x":0.5,"y":0.46,"v":24},{"x":0.52,"y":0.46,"v":16},{"x":0.54,"y":0.46,"v":9},{"x":0.56,"y":0.46,"v":6},
{"x":0.26,"y":0.44,"v":6},{"x":0.4,"y":0.44,"v":6},{"x":0.42,"y":0.44,"v":12},{"x":0.44,"y":0.44,"v":16},{"x":0.46,"y":0.44,"v":24},{"x":0.48,"y":0.44,"v":24},{"x":0.5,"y":0.44,"v":24},{"x":0.52,"y":0.44,"v":16},{"x":0.54,"y":0.44,"v":9},{"x":0.56,"y":0.44,"v":6},
{"x":0.28,"y":0.42,"v":4},{"x":0.3,"y":0.42,"v":4},{"x":0.38,"y":0.42,"v":4},{"x":0.4,"y":0.42,"v":6},{"x":0.42,"y":0.42,"v":9},{"x":0.44,"y":0.42,"v":12},{"x":0.46,"y":0.42,"v":24},{"x":0.48,"y":0.42,"v":24},{"x":0.5,"y":0.42,"v":24},{"x":0.52,"y":0.42,"v":12},{"x":0.54,"y":0.42,"v":9},{"x":0.56,"y":0.42,"v":6},
{"x":0.3,"y":0.4,"v":4},{"x":0.38,"y":0.4,"v":4},{"x":0.4,"y":0.4,"v":4},{"x":0.42,"y":0.4,"v":12},{"x":0.44,"y":0.4,"v":12},{"x":0.46,"y":0.4,"v":16},{"x":0.48,"y":0.4,"v":16},{"x":0.5,"y":0.4,"v":12},{"x":0.52,"y":0.4,"v":12},{"x":0.54,"y":0.4,"v":4},{"x":0.58,"y":0.4,"v":6},
{"x":0.3,"y":0.38,"v":6},{"x":0.4,"y":0.38,"v":9},{"x":0.42,"y":0.38,"v":4},{"x":0.44,"y":0.38,"v":12},{"x":0.46,"y":0.38,"v":12},{"x":0.48,"y":0.38,"v":9},{"x":0.5,"y":0.38,"v":6},{"x":0.52,"y":0.38,"v":6},{"x":0.54,"y":0.38,"v":9},
{"x":0.26,"y":0.36,"v":4},{"x":0.28,"y":0.36,"v":4},{"x":0.38,"y":0.36,"v":6},{"x":0.4,"y":0.36,"v":6},{"x":0.42,"y":0.36,"v":4},{"x":0.44,"y":0.36,"v":12},{"x":0.46,"y":0.36,"v":16},{"x":0.48,"y":0.36,"v":9},{"x":0.5,"y":0.36,"v":6},{"x":0.52,"y":0.36,"v":4},{"x":0.54,"y":0.36,"v":6},
{"x":0.38,"y":0.34,"v":6},{"x":0.4,"y":0.34,"v":6},{"x":0.42,"y":0.34,"v":9},{"x":0.44,"y":0.34,"v":9},{"x":0.46,"y":0.34,"v":4},{"x":0.48,"y":0.34,"v":9},{"x":0.5,"y":0.34,"v":4},{"x":0.52,"y":0.34,"v":9},{"x":0.54,"y":0.34,"v":6},
{"x":0.3,"y":0.32,"v":4},{"x":0.4,"y":0.32,"v":4},{"x":0.42,"y":0.32,"v":4},{"x":0.44,"y":0.32,"v":4},{"x":0.46,"y":0.32,"v":4},{"x":0.48,"y":0.32,"v":9},{"x":0.5,"y":0.32,"v":9},{"x":0.52,"y":0.32,"v":9},
{"x":0.3,"y":0.3,"v":9},{"x":0.38,"y":0.3,"v":9},{"x":0.42,"y":0.3,"v":6},{"x":0.44,"y":0.3,"v":6},{"x":0.46,"y":0.3,"v":4},{"x":0.48,"y":0.3,"v":9},{"x":0.5,"y":0.3,"v":9},{"x":0.52,"y":0.3,"v":6},
{"x":0.28,"y":0.28,"v":6},{"x":0.3,"y":0.28,"v":6},{"x":0.44,"y":0.28,"v":9},{"x":0.46,"y":0.28,"v":6},{"x":0.48,"y":0.28,"v":9},{"x":0.5,"y":0.28,"v":6},
{"x":0.3,"y":0.26,"v":4},{"x":0.38,"y":0.26,"v":6},{"x":0.42,"y":0.26,"v":4},{"x":0.44,"y":0.26,"v":4},{"x":0.46,"y":0.26,"v":9},{"x":0.52,"y":0.26,"v":6},
{"x":0.34,"y":0.24,"v":4},{"x":0.48,"y":0.24,"v":12},{"x":0.5,"y":0.24,"v":9},{"x":0.52,"y":0.24,"v":6},
{"x":0.34,"y":0.22,"v":4},{"x":0.42,"y":0.22,"v":4},{"x":0.46,"y":0.22,"v":9},{"x":0.48,"y":0.22,"v":4},{"x":0.52,"y":0.22,"v":6},
{"x":0.28,"y":0.2,"v":4},{"x":0.42,"y":0.2,"v":4},{"x":0.44,"y":0.2,"v":9},{"x":0.48,"y":0.2,"v":12},{"x":0.52,"y":0.2,"v":6},
{"x":0.28,"y":0.18,"v":6},{"x":0.34,"y":0.18,"v":4},{"x":0.44,"y":0.18,"v":6},{"x":0.46,"y":0.18,"v":6},{"x":0.48,"y":0.18,"v":6},{"x":0.52,"y":0.18,"v":4},
{"x":0.27,"y":0.16,"v":4},{"x":0.3,"y":0.16,"v":9},{"x":0.38,"y":0.16,"v":9},{"x":0.46,"y":0.16,"v":4},{"x":0.48,"y":0.16,"v":9},{"x":0.5,"y":0.16,"v":9},{"x":0.52,"y":0.16,"v":4},
{"x":0.27,"y":0.14,"v":4},{"x":0.32,"y":0.14,"v":4},{"x":0.44,"y":0.14,"v":4},{"x":0.48,"y":0.14,"v":6},{"x":0.5,"y":0.14,"v":6},{"x":0.52,"y":0.14,"v":6},
{"x":0.3,"y":0.12,"v":6},{"x":0.34,"y":0.12,"v":4},{"x":0.4,"y":0.12,"v":9},{"x":0.44,"y":0.12,"v":9},{"x":0.46,"y":0.12,"v":9},{"x":0.48,"y":0.12,"v":12},{"x":0.5,"y":0.12,"v":9},{"x":0.52,"y":0.12,"v":4},
{"x":0.44,"y":0.1,"v":4},{"x":0.46,"y":0.1,"v":9},{"x":0.48,"y":0.1,"v":12},{"x":0.5,"y":0.1,"v":9},{"x":0.52,"y":0.1,"v":9},{"x":0.54,"y":0.1,"v":9},{"x":0.56,"y":0.1,"v":9},
{"x":0.32,"y":0.08,"v":4},{"x":0.34,"y":0.08,"v":4},{"x":0.44,"y":0.08,"v":6},{"x":0.46,"y":0.08,"v":9},{"x":0.48,"y":0.08,"v":16},{"x":0.5,"y":0.08,"v":9},{"x":0.52,"y":0.08,"v":12},{"x":0.54,"y":0.08,"v":12},{"x":0.56,"y":0.08,"v":9},
{"x":0.44,"y":0.06,"v":4},{"x":0.46,"y":0.06,"v":9},{"x":0.48,"y":0.06,"v":12},{"x":0.5,"y":0.06,"v":16},{"x":0.52,"y":0.06,"v":16},{"x":0.54,"y":0.06,"v":12},{"x":0.56,"y":0.06,"v":4},{"x":0.58,"y":0.06,"v":4},
{"x":0.26,"y":0.04,"v":6},{"x":0.28,"y":0.04,"v":6},{"x":0.3,"y":0.04,"v":6},{"x":0.32,"y":0.04,"v":4},{"x":0.34,"y":0.04,"v":4},{"x":0.42,"y":0.04,"v":4},{"x":0.44,"y":0.04,"v":4},{"x":0.46,"y":0.04,"v":12},{"x":0.48,"y":0.04,"v":9},{"x":0.5,"y":0.04,"v":24},{"x":0.52,"y":0.04,"v":16},{"x":0.54,"y":0.04,"v":16},{"x":0.56,"y":0.04,"v":12},{"x":0.58,"y":0.04,"v":9},
{"x":0.26,"y":0.02,"v":4},{"x":0.3,"y":0.02,"v":6},{"x":0.44,"y":0.02,"v":9},{"x":0.46,"y":0.02,"v":12},{"x":0.48,"y":0.02,"v":24},{"x":0.5,"y":0.02,"v":24},{"x":0.52,"y":0.02,"v":24},{"x":0.54,"y":0.02,"v":16},{"x":0.56,"y":0.02,"v":9},{"x":0.58,"y":0.02,"v":9},{"x":0.6,"y":0.02,"v":9},
{"x":0.26,"y":0,"v":9},{"x":0.28,"y":0,"v":9},{"x":0.32,"y":0,"v":4},{"x":0.34,"y":0,"v":6},{"x":0.44,"y":0,"v":12},{"x":0.46,"y":0,"v":16},{"x":0.48,"y":0,"v":24},{"x":0.5,"y":0,"v":24},{"x":0.52,"y":0,"v":24},{"x":0.54,"y":0,"v":24},{"x":0.56,"y":0,"v":12},{"x":0.58,"y":0,"v":9},{"x":0.6,"y":0,"v":6},
{"x":0.28,"y":-0.02,"v":4},{"x":0.32,"y":-0.02,"v":4},{"x":0.34,"y":-0.02,"v":4},{"x":0.42,"y":-0.02,"v":12},{"x":0.44,"y":-0.02,"v":12},{"x":0.46,"y":-0.02,"v":24},{"x":0.48,"y":-0.02,"v":24},{"x":0.5,"y":-0.02,"v":24},{"x":0.52,"y":-0.02,"v":40},{"x":0.54,"y":-0.02,"v":24},{"x":0.56,"y":-0.02,"v":16},{"x":0.58,"y":-0.02,"v":9},
{"x":0.26,"y":-0.04,"v":4},{"x":0.3,"y":-0.04,"v":4},{"x":0.34,"y":-0.04,"v":4},{"x":0.4,"y":-0.04,"v":9},{"x":0.42,"y":-0.04,"v":9},{"x":0.44,"y":-0.04,"v":12},{"x":0.46,"y":-0.04,"v":24},{"x":0.48,"y":-0.04,"v":24},{"x":0.5,"y":-0.04,"v":24},{"x":0.52,"y":-0.04,"v":24},{"x":0.54,"y":-0.04,"v":16},{"x":0.56,"y":-0.04,"v":12},{"x":0.58,"y":-0.04,"v":9},{"x":0.6,"y":-0.04,"v":6},
{"x":0.3,"y":-0.06,"v":4},{"x":0.32,"y":-0.06,"v":6},{"x":0.34,"y":-0.06,"v":6},{"x":0.4,"y":-0.06,"v":9},{"x":0.42,"y":-0.06,"v":12},{"x":0.44,"y":-0.06,"v":12},{"x":0.46,"y":-0.06,"v":24},{"x":0.48,"y":-0.06,"v":24},{"x":0.5,"y":-0.06,"v":40},{"x":0.52,"y":-0.06,"v":24},{"x":0.54,"y":-0.06,"v":16},{"x":0.56,"y":-0.06,"v":9},{"x":0.58,"y":-0.06,"v":9},{"x":0.62,"y":-0.06,"v":6},
{"x":0.32,"y":-0.08,"v":6},{"x":0.4,"y":-0.08,"v":4},{"x":0.42,"y":-0.08,"v":9},{"x":0.44,"y":-0.08,"v":12},{"x":0.46,"y":-0.08,"v":24},{"x":0.48,"y":-0.08,"v":24},{"x":0.5,"y":-0.08,"v":24},{"x":0.52,"y":-0.08,"v":24},{"x":0.54,"y":-0.08,"v":12},{"x":0.56,"y":-0.08,"v":9},{"x":0.58,"y":-0.08,"v":6},{"x":0.6,"y":-0.08,"v":6},
{"x":0.28,"y":-0.1,"v":4},{"x":0.3,"y":-0.1,"v":4},{"x":0.38,"y":-0.1,"v":9},{"x":0.4,"y":-0.1,"v":6},{"x":0.44,"y":-0.1,"v":16},{"x":0.46,"y":-0.1,"v":16},{"x":0.48,"y":-0.1,"v":24},{"x":0.5,"y":-0.1,"v":12},{"x":0.52,"y":-0.1,"v":16},{"x":0.54,"y":-0.1,"v":16},{"x":0.56,"y":-0.1,"v":9},{"x":0.58,"y":-0.1,"v":6},
{"x":0.3,"y":-0.12,"v":4},{"x":0.4,"y":-0.12,"v":6},{"x":0.42,"y":-0.12,"v":6},{"x":0.44,"y":-0.12,"v":12},{"x":0.46,"y":-0.12,"v":12},{"x":0.48,"y":-0.12,"v":24},{"x":0.5,"y":-0.12,"v":16},{"x":0.52,"y":-0.12,"v":12},{"x":0.54,"y":-0.12,"v":12},{"x":0.56,"y":-0.12,"v":9},{"x":0.58,"y":-0.12,"v":4},
{"x":0.42,"y":-0.14,"v":9},{"x":0.44,"y":-0.14,"v":4},{"x":0.46,"y":-0.14,"v":12},{"x":0.48,"y":-0.14,"v":12},{"x":0.5,"y":-0.14,"v":9},{"x":0.52,"y":-0.14,"v":12},{"x":0.54,"y":-0.14,"v":6},
{"x":0.32,"y":-0.16,"v":4},{"x":0.44,"y":-0.16,"v":9},{"x":0.46,"y":-0.16,"v":9},{"x":0.48,"y":-0.16,"v":4},{"x":0.5,"y":-0.16,"v":4},{"x":0.52,"y":-0.16,"v":4},
{"x":0.28,"y":-0.18,"v":6},{"x":0.3,"y":-0.18,"v":4},{"x":0.34,"y":-0.18,"v":4},{"x":0.42,"y":-0.18,"v":4},{"x":0.46,"y":-0.18,"v":9},{"x":0.5,"y":-0.18,"v":4},{"x":0.52,"y":-0.18,"v":9},
{"x":0.44,"y":-0.2,"v":4},{"x":0.48,"y":-0.2,"v":9},{"x":0.5,"y":-0.2,"v":4},{"x":0.54,"y":-0.2,"v":6},
{"x":0.26,"y":-0.22,"v":9},{"x":0.44,"y":-0.22,"v":6},{"x":0.46,"y":-0.22,"v":4},{"x":0.5,"y":-0.22,"v":4},
{"x":0.28,"y":-0.26,"v":6},{"x":0.34,"y":-0.26,"v":6},{"x":0.42,"y":-0.26,"v":4},{"x":0.5,"y":-0.26,"v":4},{"x":0.52,"y":-0.26,"v":6},
{"x":0.3,"y":-0.28,"v":6},{"x":0.32,"y":-0.28,"v":6},{"x":0.42,"y":-0.28,"v":6},{"x":0.46,"y":-0.28,"v":6},{"x":0.48,"y":-0.28,"v":6},
{"x":0.26,"y":-0.3,"v":6},{"x":0.36,"y":-0.3,"v":4},{"x":0.48,"y":-0.3,"v":4},{"x":0.52,"y":-0.3,"v":4},
{"x":0.26,"y":-0.32,"v":4},{"x":0.3,"y":-0.32,"v":6},{"x":0.4,"y":-0.32,"v":4},{"x":0.44,"y":-0.32,"v":4},{"x":0.46,"y":-0.32,"v":6},{"x":0.48,"y":-0.32,"v":4},{"x":0.5,"y":-0.32,"v":6},
{"x":0.28,"y":-0.34,"v":4},{"x":0.3,"y":-0.34,"v":4},{"x":0.4,"y":-0.34,"v":6},{"x":0.42,"y":-0.34,"v":6},{"x":0.46,"y":-0.34,"v":4},{"x":0.48,"y":-0.34,"v":6},{"x":0.5,"y":-0.34,"v":4},{"x":0.52,"y":-0.34,"v":6},
{"x":0.26,"y":-0.36,"v":6},{"x":0.3,"y":-0.36,"v":6},{"x":0.34,"y":-0.36,"v":6},{"x":0.36,"y":-0.36,"v":4},{"x":0.42,"y":-0.36,"v":6},{"x":0.44,"y":-0.36,"v":9},{"x":0.46,"y":-0.36,"v":6},{"x":0.48,"y":-0.36,"v":9},{"x":0.5,"y":-0.36,"v":6},
{"x":0.28,"y":-0.38,"v":4},{"x":0.3,"y":-0.38,"v":4},{"x":0.34,"y":-0.38,"v":6},{"x":0.36,"y":-0.38,"v":6},{"x":0.38,"y":-0.38,"v":6},{"x":0.42,"y":-0.38,"v":9},{"x":0.46,"y":-0.38,"v":6},{"x":0.48,"y":-0.38,"v":6},{"x":0.5,"y":-0.38,"v":9},
{"x":0.26,"y":-0.4,"v":9},{"x":0.3,"y":-0.4,"v":6},{"x":0.34,"y":-0.4,"v":6},{"x":0.36,"y":-0.4,"v":4},{"x":0.38,"y":-0.4,"v":6},{"x":0.42,"y":-0.4,"v":4},{"x":0.44,"y":-0.4,"v":9},{"x":0.46,"y":-0.4,"v":6},{"x":0.48,"y":-0.4,"v":9},{"x":0.5,"y":-0.4,"v":9},{"x":0.52,"y":-0.4,"v":9},{"x":0.54,"y":-0.4,"v":4},
{"x":0.26,"y":-0.42,"v":9},{"x":0.28,"y":-0.42,"v":4},{"x":0.3,"y":-0.42,"v":9},{"x":0.32,"y":-0.42,"v":6},{"x":0.4,"y":-0.42,"v":12},{"x":0.42,"y":-0.42,"v":12},{"x":0.44,"y":-0.42,"v":16},{"x":0.46,"y":-0.42,"v":12},{"x":0.48,"y":-0.42,"v":9},{"x":0.5,"y":-0.42,"v":12},{"x":0.52,"y":-0.42,"v":9},{"x":0.54,"y":-0.42,"v":12},{"x":0.56,"y":-0.42,"v":9},{"x":0.58,"y":-0.42,"v":9},
{"x":0.24,"y":-0.44,"v":9},{"x":0.26,"y":-0.44,"v":4},{"x":0.3,"y":-0.44,"v":6},{"x":0.32,"y":-0.44,"v":9},{"x":0.34,"y":-0.44,"v":6},{"x":0.36,"y":-0.44,"v":4},{"x":0.38,"y":-0.44,"v":9},{"x":0.4,"y":-0.44,"v":12},{"x":0.42,"y":-0.44,"v":16},{"x":0.44,"y":-0.44,"v":9},{"x":0.46,"y":-0.44,"v":16},{"x":0.48,"y":-0.44,"v":24},{"x":0.5,"y":-0.44,"v":24},{"x":0.52,"y":-0.44,"v":24},{"x":0.54,"y":-0.44,"v":24},{"x":0.56,"y":-0.44,"v":16},{"x":0.58,"y":-0.44,"v":9},{"x":0.6,"y":-0.44,"v":4},
{"x":0.24,"y":-0.46,"v":6},{"x":0.26,"y":-0.46,"v":9},{"x":0.28,"y":-0.46,"v":6},{"x":0.3,"y":-0.46,"v":4},{"x":0.32,"y":-0.46,"v":9},{"x":0.34,"y":-0.46,"v":6},{"x":0.36,"y":-0.46,"v":6},{"x":0.38,"y":-0.46,"v":9},{"x":0.4,"y":-0.46,"v":12},{"x":0.42,"y":-0.46,"v":24},{"x":0.44,"y":-0.46,"v":24},{"x":0.46,"y":-0.46,"v":24},{"x":0.48,"y":-0.46,"v":40},{"x":0.5,"y":-0.46,"v":24},{"x":0.52,"y":-0.46,"v":12},{"x":0.54,"y":-0.46,"v":24},{"x":0.56,"y":-0.46,"v":16},{"x":0.58,"y":-0.46,"v":9},{"x":0.6,"y":-0.46,"v":6},{"x":0.62,"y":-0.46,"v":4},
{"x":0.24,"y":-0.48,"v":9},{"x":0.26,"y":-0.48,"v":6},{"x":0.28,"y":-0.48,"v":6},{"x":0.3,"y":-0.48,"v":4},{"x":0.32,"y":-0.48,"v":9},{"x":0.34,"y":-0.48,"v":6},{"x":0.36,"y":-0.48,"v":4},{"x":0.38,"y":-0.48,"v":16},{"x":0.4,"y":-0.48,"v":12},{"x":0.42,"y":-0.48,"v":24},{"x":0.44,"y":-0.48,"v":24},{"x":0.46,"y":-0.48,"v":24},{"x":0.48,"y":-0.48,"v":24},{"x":0.5,"y":-0.48,"v":24},{"x":0.52,"y":-0.48,"v":24},{"x":0.54,"y":-0.48,"v":24},{"x":0.56,"y":-0.48,"v":16},{"x":0.58,"y":-0.48,"v":9},{"x":0.6,"y":-0.48,"v":9},{"x":0.62,"y":-0.48,"v":6},
{"x":0.26,"y":-0.5,"v":6},{"x":0.28,"y":-0.5,"v":6},{"x":0.32,"y":-0.5,"v":9},{"x":0.34,"y":-0.5,"v":6},{"x":0.36,"y":-0.5,"v":9},{"x":0.38,"y":-0.5,"v":9},{"x":0.4,"y":-0.5,"v":16},{"x":0.42,"y":-0.5,"v":24},{"x":0.44,"y":-0.5,"v":24},{"x":0.46,"y":-0.5,"v":40},{"x":0.48,"y":-0.5,"v":40},{"x":0.5,"y":-0.5,"v":24},{"x":0.52,"y":-0.5,"v":40},{"x":0.54,"y":-0.5,"v":24},{"x":0.56,"y":-0.5,"v":24},{"x":0.58,"y":-0.5,"v":12},{"x":0.6,"y":-0.5,"v":9},{"x":0.62,"y":-0.5,"v":4},
{"x":0.24,"y":-0.52,"v":9},{"x":0.26,"y":-0.52,"v":9},{"x":0.28,"y":-0.52,"v":6},{"x":0.3,"y":-0.52,"v":9},{"x":0.32,"y":-0.52,"v":12},{"x":0.34,"y":-0.52,"v":9},{"x":0.36,"y":-0.52,"v":9},{"x":0.38,"y":-0.52,"v":12},{"x":0.4,"y":-0.52,"v":24},{"x":0.42,"y":-0.52,"v":24},{"x":0.44,"y":-0.52,"v":40},{"x":0.46,"y":-0.52,"v":40},{"x":0.48,"y":-0.52,"v":40},{"x":0.5,"y":-0.52,"v":40},{"x":0.52,"y":-0.52,"v":40},{"x":0.54,"y":-0.52,"v":24},{"x":0.56,"y":-0.52,"v":24},{"x":0.58,"y":-0.52,"v":12},{"x":0.6,"y":-0.52,"v":9},{"x":0.62,"y":-0.52,"v":4},
{"x":0.24,"y":-0.54,"v":4},{"x":0.26,"y":-0.54,"v":6},{"x":0.3,"y":-0.54,"v":4},{"x":0.32,"y":-0.54,"v":9},{"x":0.34,"y":-0.54,"v":4},{"x":0.38,"y":-0.54,"v":9},{"x":0.4,"y":-0.54,"v":12},{"x":0.42,"y":-0.54,"v":24},{"x":0.44,"y":-0.54,"v":24},{"x":0.46,"y":-0.54,"v":40},{"x":0.48,"y":-0.54,"v":40},{"x":0.5,"y":-0.54,"v":40},{"x":0.52,"y":-0.54,"v":40},{"x":0.54,"y":-0.54,"v":16},{"x":0.56,"y":-0.54,"v":24},{"x":0.58,"y":-0.54,"v":9},{"x":0.6,"y":-0.54,"v":9},
{"x":0.26,"y":-0.56,"v":6},{"x":0.4,"y":-0.56,"v":9},{"x":0.42,"y":-0.56,"v":12},{"x":0.44,"y":-0.56,"v":24},{"x":0.46,"y":-0.56,"v":16},{"x":0.48,"y":-0.56,"v":40},{"x":0.5,"y":-0.56,"v":40},{"x":0.52,"y":-0.56,"v":40},{"x":0.54,"y":-0.56,"v":16},{"x":0.56,"y":-0.56,"v":24},{"x":0.58,"y":-0.56,"v":40},{"x":0.6,"y":-0.56,"v":4},{"x":0.62,"y":-0.56,"v":4},
{"x":0.36,"y":-0.58,"v":4},{"x":0.42,"y":-0.58,"v":9},{"x":0.44,"y":-0.58,"v":12},{"x":0.46,"y":-0.58,"v":24},{"x":0.48,"y":-0.58,"v":24},{"x":0.5,"y":-0.58,"v":24},{"x":0.52,"y":-0.58,"v":24},{"x":0.54,"y":-0.58,"v":16},{"x":0.56,"y":-0.58,"v":12},{"x":0.58,"y":-0.58,"v":6},{"x":0.6,"y":-0.58,"v":6},
{"x":0.44,"y":-0.6,"v":9},{"x":0.46,"y":-0.6,"v":12},{"x":0.48,"y":-0.6,"v":16},{"x":0.5,"y":-0.6,"v":24},{"x":0.52,"y":-0.6,"v":16},{"x":0.54,"y":-0.6,"v":16},{"x":0.56,"y":-0.6,"v":9},{"x":0.58,"y":-0.6,"v":6},{"x":0.6,"y":-0.6,"v":4},
{"x":0.42,"y":-0.62,"v":4},{"x":0.46,"y":-0.62,"v":4},{"x":0.48,"y":-0.62,"v":9},{"x":0.5,"y":-0.62,"v":9},{"x":0.52,"y":-0.62,"v":12},{"x":0.54,"y":-0.62,"v":9},{"x":0.56,"y":-0.62,"v":9},{"x":0.58,"y":-0.62,"v":4},
{"x":0.5,"y":-0.64,"v":9},{"x":0.52,"y":-0.64,"v":6},{"x":0.54,"y":-0.64,"v":4},{"x":0.56,"y":-0.64,"v":6},{"x":0.58,"y":-0.64,"v":6},
{"x":0.52,"y":-0.66,"v":4},{"x":0.56,"y":-0.66,"v":6},{"x":0.58,"y":-0.66,"v":6}
]},"mark":{"type":"rect","width":5.2,"height":5},"encoding":{"x":{"field":"x","type":"quantitative","scale":{"domain":[-0.75,0.75],"nice":false,"zero":false},"axis":{"values":[-0.7,-0.6,-0.5,-0.4,-0.3,-0.2,-0.1,0,0.1,0.2,0.3,0.4,0.5,0.6,0.7],"title":"X Position (mm)","titleFont":"Liberation Sans","titleFontWeight":"normal","titleFontSize":32,"titleColor":"#111111","titlePadding":4,"labelFont":"Liberation Sans","labelFontSize":29,"labelColor":"#111111","labelPadding":4,"labelExpr":"abs(datum.value+0.5)<0.01?'-0.5':abs(datum.value)<0.01?'0.0':abs(datum.value-0.5)<0.01?'0.5':''","labelOverlap":false,"labelFlush":false,"grid":false,"domainColor":"#222222","domainWidth":2.5,"tickColor":"#222222","tickWidth":1.5,"tickSize":{"condition":{"test":"abs(datum.value*2-round(datum.value*2))<0.01","value":8},"value":4}}},"y":{"field":"y","type":"quantitative","scale":{"domain":[-0.75,0.75],"nice":false,"zero":false},"axis":{"values":[-0.7,-0.6,-0.5,-0.4,-0.3,-0.2,-0.1,0,0.1,0.2,0.3,0.4,0.5,0.6,0.7],"title":"Y Position (mm)","titleFont":"Liberation Sans","titleFontWeight":"normal","titleFontSize":32,"titleColor":"#111111","titlePadding":-4,"labelFont":"Liberation Sans","labelFontSize":29,"labelColor":"#111111","labelPadding":4,"labelExpr":"abs(datum.value+0.5)<0.01?'-0.5':abs(datum.value)<0.01?'0.0':abs(datum.value-0.5)<0.01?'0.5':''","labelOverlap":false,"grid":false,"domainColor":"#222222","domainWidth":2.5,"tickColor":"#222222","tickWidth":1.5,"tickSize":{"condition":{"test":"abs(datum.value*2-round(datum.value*2))<0.01","value":8},"value":4}}},"color":{"field":"v","type":"quantitative","legend":null,"scale":{"type":"threshold","domain":[5,7,11,14,18,30],"range":["#000000","#969696","#800000","#ff0000","#ff8000","#ffff00","#ffffc8"]}}}},{"width":53,"height":358,"layer":[{"data":{"values":[{"s0":0,"s1":1,"v":40},{"s0":1,"s1":2,"v":24},{"s0":2,"s1":3,"v":16},{"s0":3,"s1":4,"v":12},{"s0":4,"s1":5,"v":9},{"s0":5,"s1":6,"v":6},{"s0":6,"s1":7,"v":4}]},"mark":{"type":"rect"},"encoding":{"y":{"field":"s0","type":"quantitative","axis":null,"scale":{"domain":[8.04,-1.305],"nice":false,"zero":false}},"y2":{"field":"s1"},"color":{"field":"v","type":"quantitative","legend":null,"scale":{"type":"threshold","domain":[5,7,11,14,18,30],"range":["#000000","#969696","#800000","#ff0000","#ff8000","#ffff00","#ffffc8"]}}}},{"data":{"values":[{"s":0.08,"t":"50"},{"s":1.05,"t":"30"},{"s":2.05,"t":"18"},{"s":3.05,"t":"14"},{"s":4.05,"t":"11"},{"s":5.08,"t":"7"},{"s":6.05,"t":"5"},{"s":7.08,"t":"4"}]},"mark":{"type":"text","align":"left","baseline":"middle","x":65,"fontSize":29,"font":"Liberation Sans","color":"#111111"},"encoding":{"y":{"field":"s","type":"quantitative","axis":null,"scale":{"domain":[8.04,-1.305],"nice":false,"zero":false}},"text":{"field":"t"}}}]}]}
